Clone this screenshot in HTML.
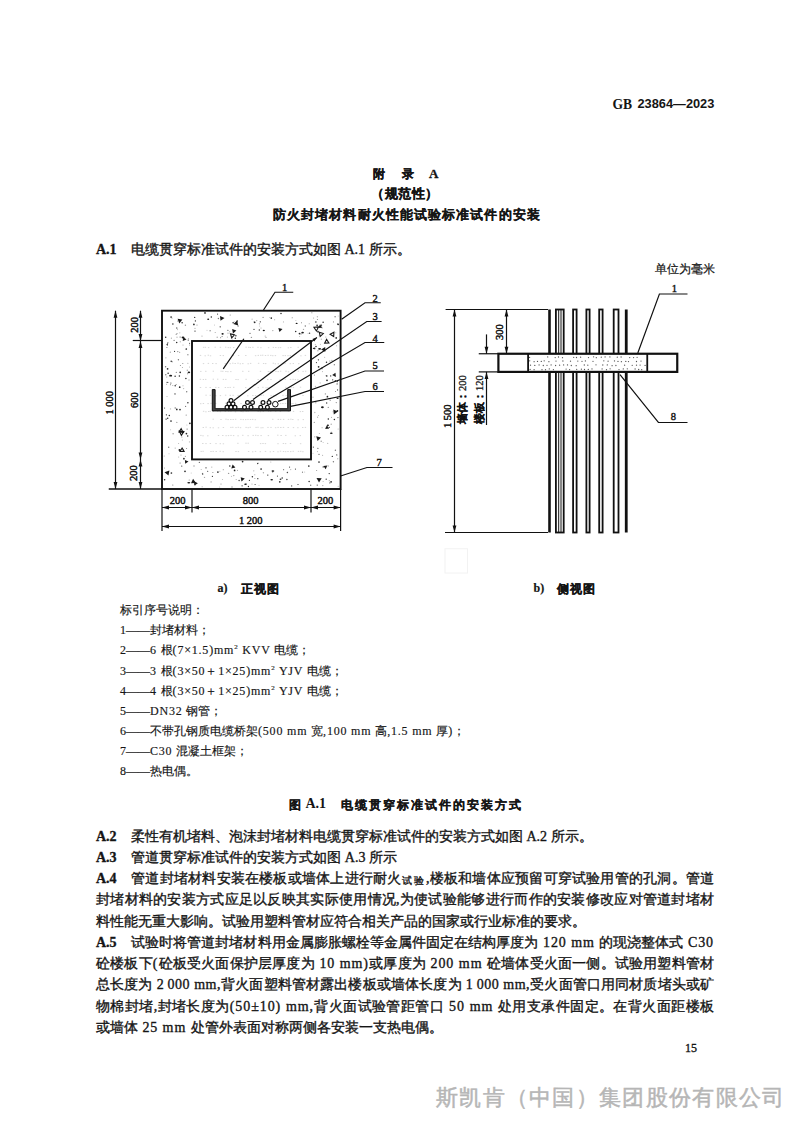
<!DOCTYPE html>
<html><head><meta charset="utf-8">
<style>
html,body{margin:0;padding:0;background:#fff;}
body{width:800px;height:1131px;position:relative;overflow:hidden;font-family:"Liberation Serif",serif;color:#151515;}
.t{position:absolute;white-space:nowrap;line-height:14px;}
.s{font-family:"Liberation Sans",sans-serif;font-weight:bold;-webkit-text-stroke:0.3px #151515;}
.p{position:absolute;left:96px;width:618px;font-size:14px;line-height:14px;white-space:nowrap;text-align:justify;text-align-last:justify;-webkit-text-stroke:0.35px #151515;}
.n{display:inline-block;width:35px;font-weight:bold;text-align:left;text-align-last:left;}
.lg{position:absolute;left:120px;font-size:12px;line-height:12px;white-space:nowrap;text-align:justify;text-align-last:justify;-webkit-text-stroke:0.15px #151515;}
.L{letter-spacing:0.8px;}
.L2{letter-spacing:0.9px;}
sup{font-size:7px;line-height:0;vertical-align:5px;}
svg{position:absolute;left:0;top:0;}
</style></head><body>
<svg width="800" height="1131" viewBox="0 0 800 1131">
<g fill="none" stroke="#111">
<circle cx="325.4" cy="393.9" r="0.7" fill="#999" stroke="none"/>
<circle cx="180.4" cy="365.6" r="0.5" fill="#777" stroke="none"/>
<circle cx="309.2" cy="323.7" r="0.5" fill="#999" stroke="none"/>
<circle cx="317.6" cy="417.2" r="0.6" fill="#aaa" stroke="none"/>
<circle cx="338.2" cy="486.2" r="0.5" fill="#aaa" stroke="none"/>
<circle cx="214.5" cy="324.9" r="0.5" fill="#bbb" stroke="none"/>
<circle cx="182.8" cy="363.4" r="0.5" fill="#777" stroke="none"/>
<circle cx="311.9" cy="312.8" r="0.5" fill="#777" stroke="none"/>
<circle cx="246.1" cy="483.6" r="0.6" fill="#bbb" stroke="none"/>
<circle cx="176.8" cy="422.4" r="0.7" fill="#aaa" stroke="none"/>
<circle cx="166.6" cy="384.2" r="0.5" fill="#999" stroke="none"/>
<circle cx="207.0" cy="330.3" r="0.5" fill="#bbb" stroke="none"/>
<circle cx="186.9" cy="424.9" r="0.5" fill="#bbb" stroke="none"/>
<circle cx="211.1" cy="481.9" r="0.7" fill="#aaa" stroke="none"/>
<circle cx="338.2" cy="316.1" r="0.5" fill="#bbb" stroke="none"/>
<circle cx="337.9" cy="417.6" r="0.7" fill="#777" stroke="none"/>
<circle cx="171.4" cy="338.2" r="0.6" fill="#aaa" stroke="none"/>
<circle cx="165.7" cy="419.1" r="0.6" fill="#bbb" stroke="none"/>
<circle cx="176.8" cy="328.4" r="0.7" fill="#999" stroke="none"/>
<circle cx="166.7" cy="377.0" r="0.7" fill="#bbb" stroke="none"/>
<circle cx="186.2" cy="415.1" r="0.7" fill="#999" stroke="none"/>
<circle cx="315.3" cy="344.6" r="0.5" fill="#aaa" stroke="none"/>
<circle cx="322.6" cy="455.2" r="0.5" fill="#999" stroke="none"/>
<circle cx="177.7" cy="321.0" r="0.5" fill="#777" stroke="none"/>
<circle cx="237.5" cy="470.4" r="0.6" fill="#aaa" stroke="none"/>
<circle cx="254.8" cy="474.7" r="0.5" fill="#999" stroke="none"/>
<circle cx="212.9" cy="472.6" r="0.5" fill="#777" stroke="none"/>
<circle cx="176.1" cy="384.4" r="0.5" fill="#777" stroke="none"/>
<circle cx="172.1" cy="361.8" r="0.7" fill="#999" stroke="none"/>
<circle cx="180.1" cy="336.8" r="0.6" fill="#aaa" stroke="none"/>
<circle cx="266.0" cy="337.2" r="0.5" fill="#777" stroke="none"/>
<circle cx="218.4" cy="318.5" r="0.7" fill="#777" stroke="none"/>
<circle cx="219.7" cy="486.9" r="0.5" fill="#bbb" stroke="none"/>
<circle cx="321.2" cy="441.2" r="0.7" fill="#999" stroke="none"/>
<circle cx="302.5" cy="472.2" r="0.6" fill="#777" stroke="none"/>
<circle cx="283.6" cy="469.7" r="0.6" fill="#777" stroke="none"/>
<circle cx="314.8" cy="412.5" r="0.7" fill="#bbb" stroke="none"/>
<circle cx="230.2" cy="314.9" r="0.5" fill="#777" stroke="none"/>
<circle cx="179.8" cy="332.8" r="0.6" fill="#bbb" stroke="none"/>
<circle cx="178.6" cy="443.5" r="0.5" fill="#aaa" stroke="none"/>
<circle cx="324.7" cy="357.3" r="0.5" fill="#aaa" stroke="none"/>
<circle cx="322.1" cy="427.7" r="0.6" fill="#bbb" stroke="none"/>
<circle cx="319.7" cy="369.7" r="0.7" fill="#aaa" stroke="none"/>
<circle cx="304.7" cy="472.0" r="0.5" fill="#bbb" stroke="none"/>
<circle cx="202.3" cy="473.2" r="0.5" fill="#999" stroke="none"/>
<circle cx="187.5" cy="373.8" r="0.5" fill="#777" stroke="none"/>
<circle cx="329.9" cy="360.9" r="0.5" fill="#777" stroke="none"/>
<circle cx="335.5" cy="391.6" r="0.5" fill="#777" stroke="none"/>
<circle cx="335.8" cy="332.8" r="0.5" fill="#aaa" stroke="none"/>
<circle cx="331.3" cy="432.0" r="0.5" fill="#bbb" stroke="none"/>
<circle cx="170.3" cy="352.2" r="0.6" fill="#999" stroke="none"/>
<circle cx="322.2" cy="327.9" r="0.7" fill="#bbb" stroke="none"/>
<circle cx="186.7" cy="391.8" r="0.7" fill="#777" stroke="none"/>
<circle cx="317.5" cy="451.6" r="0.6" fill="#bbb" stroke="none"/>
<circle cx="221.0" cy="483.9" r="0.5" fill="#777" stroke="none"/>
<circle cx="201.2" cy="469.6" r="0.5" fill="#aaa" stroke="none"/>
<circle cx="219.9" cy="471.3" r="0.5" fill="#aaa" stroke="none"/>
<circle cx="252.1" cy="319.2" r="0.6" fill="#bbb" stroke="none"/>
<circle cx="169.0" cy="453.7" r="0.5" fill="#bbb" stroke="none"/>
<circle cx="188.5" cy="338.6" r="0.7" fill="#bbb" stroke="none"/>
<circle cx="329.1" cy="398.6" r="0.7" fill="#777" stroke="none"/>
<circle cx="253.8" cy="470.8" r="0.6" fill="#aaa" stroke="none"/>
<circle cx="281.2" cy="479.1" r="0.7" fill="#999" stroke="none"/>
<circle cx="217.2" cy="337.3" r="0.7" fill="#aaa" stroke="none"/>
<circle cx="269.7" cy="317.5" r="0.5" fill="#bbb" stroke="none"/>
<circle cx="259.0" cy="485.2" r="0.5" fill="#bbb" stroke="none"/>
<circle cx="180.3" cy="341.8" r="0.7" fill="#bbb" stroke="none"/>
<circle cx="236.2" cy="479.5" r="0.6" fill="#aaa" stroke="none"/>
<circle cx="223.3" cy="469.7" r="0.6" fill="#aaa" stroke="none"/>
<circle cx="183.0" cy="385.8" r="0.5" fill="#aaa" stroke="none"/>
<circle cx="186.6" cy="448.5" r="0.5" fill="#777" stroke="none"/>
<circle cx="182.3" cy="440.1" r="0.5" fill="#aaa" stroke="none"/>
<circle cx="317.4" cy="316.8" r="0.7" fill="#bbb" stroke="none"/>
<circle cx="258.0" cy="463.3" r="0.7" fill="#999" stroke="none"/>
<circle cx="270.8" cy="462.0" r="0.5" fill="#aaa" stroke="none"/>
<circle cx="321.6" cy="367.8" r="0.6" fill="#999" stroke="none"/>
<circle cx="202.1" cy="486.7" r="0.5" fill="#999" stroke="none"/>
<circle cx="319.2" cy="335.8" r="0.5" fill="#aaa" stroke="none"/>
<circle cx="328.3" cy="407.4" r="0.7" fill="#999" stroke="none"/>
<circle cx="303.5" cy="329.4" r="0.7" fill="#aaa" stroke="none"/>
<circle cx="323.1" cy="481.5" r="0.5" fill="#aaa" stroke="none"/>
<circle cx="197.0" cy="325.0" r="0.5" fill="#777" stroke="none"/>
<circle cx="170.5" cy="408.9" r="0.7" fill="#bbb" stroke="none"/>
<circle cx="189.6" cy="344.9" r="0.5" fill="#999" stroke="none"/>
<circle cx="310.7" cy="485.3" r="0.7" fill="#777" stroke="none"/>
<circle cx="265.2" cy="336.1" r="0.7" fill="#bbb" stroke="none"/>
<circle cx="177.5" cy="329.6" r="0.6" fill="#bbb" stroke="none"/>
<circle cx="274.7" cy="319.8" r="0.5" fill="#999" stroke="none"/>
<circle cx="228.6" cy="473.4" r="0.7" fill="#999" stroke="none"/>
<circle cx="180.6" cy="450.8" r="0.6" fill="#777" stroke="none"/>
<circle cx="314.3" cy="422.4" r="0.6" fill="#999" stroke="none"/>
<circle cx="252.0" cy="484.0" r="0.6" fill="#aaa" stroke="none"/>
<circle cx="323.1" cy="442.5" r="0.5" fill="#bbb" stroke="none"/>
<circle cx="187.3" cy="370.2" r="0.7" fill="#aaa" stroke="none"/>
<circle cx="176.3" cy="372.3" r="0.6" fill="#777" stroke="none"/>
<circle cx="165.8" cy="374.7" r="0.7" fill="#777" stroke="none"/>
<circle cx="204.5" cy="477.4" r="0.7" fill="#aaa" stroke="none"/>
<circle cx="232.0" cy="487.0" r="0.7" fill="#999" stroke="none"/>
<circle cx="335.1" cy="316.7" r="0.7" fill="#777" stroke="none"/>
<circle cx="234.1" cy="321.5" r="0.5" fill="#bbb" stroke="none"/>
<circle cx="165.9" cy="357.8" r="0.6" fill="#aaa" stroke="none"/>
<circle cx="332.9" cy="411.7" r="0.5" fill="#bbb" stroke="none"/>
<circle cx="305.3" cy="326.0" r="0.7" fill="#777" stroke="none"/>
<circle cx="231.5" cy="476.3" r="0.6" fill="#bbb" stroke="none"/>
<circle cx="333.4" cy="461.8" r="0.7" fill="#777" stroke="none"/>
<circle cx="326.3" cy="428.4" r="0.7" fill="#aaa" stroke="none"/>
<circle cx="168.7" cy="447.3" r="0.7" fill="#777" stroke="none"/>
<circle cx="283.5" cy="321.9" r="0.6" fill="#bbb" stroke="none"/>
<circle cx="172.8" cy="485.0" r="0.6" fill="#777" stroke="none"/>
<circle cx="295.9" cy="320.6" r="0.5" fill="#bbb" stroke="none"/>
<circle cx="189.2" cy="480.0" r="0.5" fill="#777" stroke="none"/>
<circle cx="172.8" cy="385.4" r="0.5" fill="#999" stroke="none"/>
<circle cx="314.4" cy="374.9" r="0.5" fill="#777" stroke="none"/>
<circle cx="227.4" cy="337.1" r="0.6" fill="#bbb" stroke="none"/>
<circle cx="187.9" cy="363.3" r="0.5" fill="#999" stroke="none"/>
<circle cx="330.2" cy="400.2" r="0.7" fill="#999" stroke="none"/>
<circle cx="317.4" cy="319.6" r="0.5" fill="#777" stroke="none"/>
<circle cx="272.8" cy="330.6" r="0.7" fill="#aaa" stroke="none"/>
<circle cx="176.7" cy="327.8" r="0.7" fill="#999" stroke="none"/>
<circle cx="177.0" cy="333.6" r="0.7" fill="#999" stroke="none"/>
<circle cx="232.1" cy="339.0" r="0.5" fill="#aaa" stroke="none"/>
<circle cx="165.6" cy="366.8" r="0.7" fill="#777" stroke="none"/>
<circle cx="317.9" cy="350.8" r="0.7" fill="#aaa" stroke="none"/>
<circle cx="228.0" cy="333.2" r="0.7" fill="#bbb" stroke="none"/>
<circle cx="263.4" cy="472.8" r="0.7" fill="#aaa" stroke="none"/>
<circle cx="233.8" cy="475.6" r="0.7" fill="#999" stroke="none"/>
<circle cx="178.7" cy="457.1" r="0.5" fill="#aaa" stroke="none"/>
<circle cx="195.0" cy="328.3" r="0.6" fill="#aaa" stroke="none"/>
<circle cx="174.1" cy="340.4" r="0.6" fill="#777" stroke="none"/>
<circle cx="175.2" cy="408.0" r="0.7" fill="#777" stroke="none"/>
<circle cx="182.4" cy="367.4" r="0.5" fill="#999" stroke="none"/>
<circle cx="181.0" cy="455.0" r="0.6" fill="#999" stroke="none"/>
<circle cx="322.5" cy="371.6" r="0.6" fill="#bbb" stroke="none"/>
<circle cx="222.1" cy="336.5" r="0.6" fill="#777" stroke="none"/>
<circle cx="287.6" cy="472.2" r="0.6" fill="#aaa" stroke="none"/>
<circle cx="313.0" cy="453.2" r="0.5" fill="#bbb" stroke="none"/>
<circle cx="331.2" cy="424.3" r="0.7" fill="#aaa" stroke="none"/>
<circle cx="189.5" cy="441.9" r="0.7" fill="#bbb" stroke="none"/>
<circle cx="211.8" cy="467.1" r="0.6" fill="#aaa" stroke="none"/>
<circle cx="191.2" cy="473.0" r="0.5" fill="#bbb" stroke="none"/>
<circle cx="167.0" cy="396.6" r="0.5" fill="#aaa" stroke="none"/>
<circle cx="183.0" cy="344.9" r="0.5" fill="#999" stroke="none"/>
<circle cx="320.2" cy="382.9" r="0.6" fill="#bbb" stroke="none"/>
<circle cx="313.0" cy="397.2" r="0.6" fill="#aaa" stroke="none"/>
<circle cx="180.1" cy="463.0" r="0.6" fill="#777" stroke="none"/>
<circle cx="202.0" cy="336.1" r="0.6" fill="#aaa" stroke="none"/>
<circle cx="301.5" cy="322.8" r="0.5" fill="#777" stroke="none"/>
<circle cx="316.6" cy="470.5" r="0.6" fill="#999" stroke="none"/>
<circle cx="315.8" cy="402.7" r="0.7" fill="#aaa" stroke="none"/>
<circle cx="254.1" cy="321.9" r="0.7" fill="#999" stroke="none"/>
<circle cx="164.2" cy="455.9" r="0.5" fill="#999" stroke="none"/>
<circle cx="178.4" cy="359.7" r="0.7" fill="#777" stroke="none"/>
<circle cx="319.3" cy="433.6" r="0.5" fill="#aaa" stroke="none"/>
<circle cx="167.3" cy="345.4" r="0.5" fill="#777" stroke="none"/>
<circle cx="170.5" cy="384.7" r="0.6" fill="#999" stroke="none"/>
<circle cx="329.3" cy="480.7" r="0.6" fill="#aaa" stroke="none"/>
<circle cx="338.1" cy="429.0" r="0.5" fill="#aaa" stroke="none"/>
<circle cx="177.0" cy="337.2" r="0.7" fill="#bbb" stroke="none"/>
<circle cx="301.0" cy="333.9" r="0.6" fill="#777" stroke="none"/>
<circle cx="314.8" cy="436.8" r="0.6" fill="#999" stroke="none"/>
<circle cx="215.2" cy="332.5" r="0.5" fill="#999" stroke="none"/>
<circle cx="321.4" cy="339.2" r="0.7" fill="#bbb" stroke="none"/>
<circle cx="327.7" cy="443.4" r="0.6" fill="#bbb" stroke="none"/>
<circle cx="261.0" cy="327.9" r="0.5" fill="#999" stroke="none"/>
<circle cx="229.7" cy="331.8" r="0.6" fill="#aaa" stroke="none"/>
<circle cx="180.1" cy="337.2" r="0.5" fill="#999" stroke="none"/>
<circle cx="179.7" cy="352.2" r="0.5" fill="#777" stroke="none"/>
<circle cx="325.8" cy="336.9" r="0.5" fill="#999" stroke="none"/>
<circle cx="166.7" cy="382.5" r="0.7" fill="#aaa" stroke="none"/>
<circle cx="335.4" cy="450.3" r="0.7" fill="#777" stroke="none"/>
<circle cx="181.9" cy="437.1" r="0.6" fill="#aaa" stroke="none"/>
<circle cx="251.4" cy="337.4" r="0.7" fill="#999" stroke="none"/>
<circle cx="336.3" cy="402.6" r="0.7" fill="#999" stroke="none"/>
<circle cx="263.1" cy="317.4" r="0.7" fill="#999" stroke="none"/>
<circle cx="299.6" cy="336.5" r="0.6" fill="#bbb" stroke="none"/>
<circle cx="326.2" cy="375.7" r="0.6" fill="#777" stroke="none"/>
<circle cx="259.4" cy="323.8" r="0.6" fill="#999" stroke="none"/>
<circle cx="322.8" cy="485.6" r="0.6" fill="#999" stroke="none"/>
<circle cx="185.4" cy="456.4" r="0.6" fill="#aaa" stroke="none"/>
<circle cx="259.7" cy="326.0" r="0.5" fill="#bbb" stroke="none"/>
<circle cx="195.4" cy="484.7" r="0.7" fill="#999" stroke="none"/>
<circle cx="166.9" cy="347.5" r="0.6" fill="#777" stroke="none"/>
<circle cx="189.0" cy="380.0" r="0.7" fill="#bbb" stroke="none"/>
<circle cx="170.6" cy="429.7" r="0.5" fill="#bbb" stroke="none"/>
<circle cx="331.5" cy="417.3" r="0.6" fill="#aaa" stroke="none"/>
<circle cx="337.7" cy="458.8" r="0.7" fill="#bbb" stroke="none"/>
<circle cx="308.1" cy="333.2" r="0.5" fill="#aaa" stroke="none"/>
<circle cx="321.9" cy="368.6" r="0.5" fill="#aaa" stroke="none"/>
<circle cx="290.7" cy="469.6" r="0.7" fill="#bbb" stroke="none"/>
<circle cx="176.2" cy="334.4" r="0.6" fill="#999" stroke="none"/>
<circle cx="173.1" cy="433.8" r="0.7" fill="#999" stroke="none"/>
<circle cx="328.2" cy="466.0" r="0.7" fill="#aaa" stroke="none"/>
<circle cx="315.3" cy="386.2" r="0.5" fill="#999" stroke="none"/>
<circle cx="185.4" cy="325.2" r="0.7" fill="#999" stroke="none"/>
<circle cx="185.6" cy="406.4" r="0.6" fill="#777" stroke="none"/>
<circle cx="168.2" cy="342.7" r="0.6" fill="#bbb" stroke="none"/>
<circle cx="172.0" cy="318.1" r="0.6" fill="#aaa" stroke="none"/>
<circle cx="220.6" cy="337.7" r="0.6" fill="#999" stroke="none"/>
<circle cx="199.4" cy="462.4" r="0.7" fill="#777" stroke="none"/>
<circle cx="194.0" cy="466.0" r="0.7" fill="#999" stroke="none"/>
<circle cx="329.8" cy="482.9" r="0.7" fill="#777" stroke="none"/>
<circle cx="331.9" cy="360.4" r="0.6" fill="#999" stroke="none"/>
<circle cx="222.5" cy="479.5" r="0.6" fill="#bbb" stroke="none"/>
<circle cx="177.8" cy="351.6" r="0.6" fill="#777" stroke="none"/>
<circle cx="318.4" cy="415.5" r="0.5" fill="#aaa" stroke="none"/>
<circle cx="320.4" cy="344.2" r="0.5" fill="#aaa" stroke="none"/>
<circle cx="187.1" cy="429.1" r="0.6" fill="#777" stroke="none"/>
<circle cx="256.7" cy="320.6" r="0.7" fill="#aaa" stroke="none"/>
<circle cx="336.6" cy="345.7" r="0.5" fill="#aaa" stroke="none"/>
<circle cx="292.2" cy="317.7" r="0.5" fill="#777" stroke="none"/>
<circle cx="272.6" cy="472.4" r="0.7" fill="#bbb" stroke="none"/>
<circle cx="164.5" cy="468.1" r="0.5" fill="#999" stroke="none"/>
<circle cx="175.2" cy="448.1" r="0.6" fill="#aaa" stroke="none"/>
<circle cx="254.9" cy="478.6" r="0.5" fill="#999" stroke="none"/>
<circle cx="183.6" cy="388.6" r="0.7" fill="#bbb" stroke="none"/>
<circle cx="333.5" cy="321.9" r="0.6" fill="#999" stroke="none"/>
<circle cx="313.6" cy="318.1" r="0.5" fill="#999" stroke="none"/>
<circle cx="189.5" cy="366.9" r="0.5" fill="#aaa" stroke="none"/>
<circle cx="286.9" cy="479.5" r="0.65" fill="#2a2a2a" stroke="none"/>
<circle cx="336.2" cy="337.9" r="0.85" fill="#2a2a2a" stroke="none"/>
<circle cx="255.1" cy="484.5" r="0.55" fill="#2a2a2a" stroke="none"/>
<circle cx="206.0" cy="467.8" r="0.65" fill="#2a2a2a" stroke="none"/>
<circle cx="180.0" cy="409.6" r="0.85" fill="#2a2a2a" stroke="none"/>
<circle cx="238.1" cy="326.0" r="0.55" fill="#2a2a2a" stroke="none"/>
<circle cx="334.4" cy="419.5" r="0.75" fill="#2a2a2a" stroke="none"/>
<circle cx="326.8" cy="376.1" r="0.75" fill="#2a2a2a" stroke="none"/>
<circle cx="329.2" cy="473.6" r="0.65" fill="#2a2a2a" stroke="none"/>
<circle cx="170.9" cy="383.0" r="0.55" fill="#2a2a2a" stroke="none"/>
<circle cx="323.2" cy="466.9" r="0.65" fill="#2a2a2a" stroke="none"/>
<circle cx="242.1" cy="485.8" r="0.65" fill="#2a2a2a" stroke="none"/>
<circle cx="314.6" cy="348.4" r="0.85" fill="#2a2a2a" stroke="none"/>
<circle cx="237.2" cy="320.9" r="0.75" fill="#2a2a2a" stroke="none"/>
<circle cx="167.2" cy="344.4" r="0.75" fill="#2a2a2a" stroke="none"/>
<circle cx="182.1" cy="322.7" r="0.75" fill="#2a2a2a" stroke="none"/>
<circle cx="187.9" cy="354.7" r="0.55" fill="#2a2a2a" stroke="none"/>
<circle cx="167.6" cy="368.8" r="0.85" fill="#2a2a2a" stroke="none"/>
<circle cx="242.6" cy="461.6" r="0.85" fill="#2a2a2a" stroke="none"/>
<circle cx="254.7" cy="322.3" r="0.85" fill="#2a2a2a" stroke="none"/>
<circle cx="186.3" cy="349.0" r="0.85" fill="#2a2a2a" stroke="none"/>
<circle cx="187.7" cy="435.9" r="0.75" fill="#2a2a2a" stroke="none"/>
<circle cx="229.8" cy="466.1" r="0.75" fill="#2a2a2a" stroke="none"/>
<circle cx="187.9" cy="402.8" r="0.75" fill="#2a2a2a" stroke="none"/>
<circle cx="171.1" cy="317.0" r="0.85" fill="#2a2a2a" stroke="none"/>
<circle cx="334.3" cy="364.7" r="0.55" fill="#2a2a2a" stroke="none"/>
<circle cx="324.5" cy="350.4" r="0.75" fill="#2a2a2a" stroke="none"/>
<circle cx="280.4" cy="479.2" r="0.75" fill="#2a2a2a" stroke="none"/>
<circle cx="179.7" cy="387.2" r="0.85" fill="#2a2a2a" stroke="none"/>
<circle cx="326.5" cy="362.3" r="0.75" fill="#2a2a2a" stroke="none"/>
<circle cx="202.7" cy="474.0" r="0.65" fill="#2a2a2a" stroke="none"/>
<circle cx="180.2" cy="372.3" r="0.85" fill="#2a2a2a" stroke="none"/>
<circle cx="217.9" cy="472.1" r="0.85" fill="#2a2a2a" stroke="none"/>
<circle cx="185.0" cy="471.3" r="0.85" fill="#2a2a2a" stroke="none"/>
<circle cx="289.6" cy="467.1" r="0.55" fill="#2a2a2a" stroke="none"/>
<circle cx="168.1" cy="373.2" r="0.75" fill="#2a2a2a" stroke="none"/>
<circle cx="330.7" cy="375.9" r="0.65" fill="#2a2a2a" stroke="none"/>
<circle cx="308.8" cy="466.0" r="0.85" fill="#2a2a2a" stroke="none"/>
<circle cx="332.7" cy="379.8" r="0.65" fill="#2a2a2a" stroke="none"/>
<circle cx="167.7" cy="418.2" r="0.75" fill="#2a2a2a" stroke="none"/>
<circle cx="205.0" cy="312.9" r="0.85" fill="#2a2a2a" stroke="none"/>
<circle cx="164.6" cy="408.0" r="0.55" fill="#2a2a2a" stroke="none"/>
<circle cx="309.1" cy="481.6" r="0.75" fill="#2a2a2a" stroke="none"/>
<circle cx="210.1" cy="330.8" r="0.55" fill="#2a2a2a" stroke="none"/>
<circle cx="332.3" cy="456.4" r="0.65" fill="#2a2a2a" stroke="none"/>
<circle cx="287.3" cy="472.6" r="0.65" fill="#2a2a2a" stroke="none"/>
<circle cx="317.2" cy="485.1" r="0.55" fill="#2a2a2a" stroke="none"/>
<circle cx="318.6" cy="366.8" r="0.85" fill="#2a2a2a" stroke="none"/>
<circle cx="171.0" cy="421.0" r="0.85" fill="#2a2a2a" stroke="none"/>
<circle cx="315.9" cy="322.0" r="0.75" fill="#2a2a2a" stroke="none"/>
<circle cx="313.5" cy="348.4" r="0.65" fill="#2a2a2a" stroke="none"/>
<circle cx="185.9" cy="378.4" r="0.75" fill="#2a2a2a" stroke="none"/>
<circle cx="166.4" cy="414.8" r="0.65" fill="#2a2a2a" stroke="none"/>
<circle cx="188.2" cy="340.1" r="0.55" fill="#2a2a2a" stroke="none"/>
<circle cx="316.0" cy="346.5" r="0.75" fill="#2a2a2a" stroke="none"/>
<circle cx="291.7" cy="485.9" r="0.55" fill="#2a2a2a" stroke="none"/>
<circle cx="234.6" cy="470.4" r="0.85" fill="#2a2a2a" stroke="none"/>
<circle cx="193.9" cy="324.4" r="0.85" fill="#2a2a2a" stroke="none"/>
<circle cx="335.3" cy="380.6" r="0.65" fill="#2a2a2a" stroke="none"/>
<circle cx="189.6" cy="343.2" r="0.55" fill="#2a2a2a" stroke="none"/>
<circle cx="261.1" cy="469.0" r="0.85" fill="#2a2a2a" stroke="none"/>
<circle cx="318.4" cy="359.8" r="0.65" fill="#2a2a2a" stroke="none"/>
<circle cx="220.2" cy="326.8" r="0.65" fill="#2a2a2a" stroke="none"/>
<circle cx="172.9" cy="323.9" r="0.75" fill="#2a2a2a" stroke="none"/>
<circle cx="281.0" cy="313.4" r="0.75" fill="#2a2a2a" stroke="none"/>
<circle cx="248.4" cy="486.5" r="0.65" fill="#2a2a2a" stroke="none"/>
<circle cx="337.1" cy="383.9" r="0.55" fill="#2a2a2a" stroke="none"/>
<circle cx="233.1" cy="322.7" r="0.75" fill="#2a2a2a" stroke="none"/>
<circle cx="212.4" cy="476.3" r="0.65" fill="#2a2a2a" stroke="none"/>
<circle cx="337.6" cy="389.9" r="0.55" fill="#2a2a2a" stroke="none"/>
<circle cx="194.7" cy="317.4" r="0.65" fill="#2a2a2a" stroke="none"/>
<circle cx="211.3" cy="316.9" r="0.75" fill="#2a2a2a" stroke="none"/>
<circle cx="175.0" cy="393.9" r="0.65" fill="#2a2a2a" stroke="none"/>
<circle cx="175.1" cy="376.2" r="0.75" fill="#2a2a2a" stroke="none"/>
<circle cx="298.0" cy="484.5" r="0.55" fill="#2a2a2a" stroke="none"/>
<circle cx="327.4" cy="396.7" r="0.85" fill="#2a2a2a" stroke="none"/>
<circle cx="207.7" cy="471.3" r="0.55" fill="#2a2a2a" stroke="none"/>
<circle cx="165.7" cy="337.2" r="0.75" fill="#2a2a2a" stroke="none"/>
<circle cx="322.0" cy="368.8" r="0.55" fill="#2a2a2a" stroke="none"/>
<circle cx="195.4" cy="320.9" r="0.65" fill="#2a2a2a" stroke="none"/>
<circle cx="195.0" cy="331.1" r="0.65" fill="#2a2a2a" stroke="none"/>
<circle cx="167.8" cy="382.4" r="0.55" fill="#2a2a2a" stroke="none"/>
<circle cx="257.8" cy="478.7" r="0.65" fill="#2a2a2a" stroke="none"/>
<circle cx="167.6" cy="343.1" r="0.55" fill="#2a2a2a" stroke="none"/>
<circle cx="295.7" cy="331.6" r="0.75" fill="#2a2a2a" stroke="none"/>
<circle cx="239.1" cy="480.5" r="0.65" fill="#2a2a2a" stroke="none"/>
<circle cx="319.0" cy="454.3" r="0.55" fill="#2a2a2a" stroke="none"/>
<circle cx="282.2" cy="477.9" r="0.75" fill="#2a2a2a" stroke="none"/>
<circle cx="317.9" cy="448.2" r="0.55" fill="#2a2a2a" stroke="none"/>
<circle cx="189.9" cy="423.3" r="0.85" fill="#2a2a2a" stroke="none"/>
<circle cx="323.1" cy="322.3" r="0.75" fill="#2a2a2a" stroke="none"/>
<circle cx="319.0" cy="462.0" r="0.85" fill="#2a2a2a" stroke="none"/>
<circle cx="183.9" cy="458.7" r="0.85" fill="#2a2a2a" stroke="none"/>
<circle cx="171.4" cy="473.0" r="0.85" fill="#2a2a2a" stroke="none"/>
<circle cx="267.8" cy="475.1" r="0.65" fill="#2a2a2a" stroke="none"/>
<circle cx="260.3" cy="321.8" r="0.65" fill="#2a2a2a" stroke="none"/>
<circle cx="295.4" cy="469.1" r="0.55" fill="#2a2a2a" stroke="none"/>
<circle cx="277.4" cy="476.1" r="0.55" fill="#2a2a2a" stroke="none"/>
<circle cx="337.5" cy="324.0" r="0.55" fill="#2a2a2a" stroke="none"/>
<circle cx="257.6" cy="463.6" r="0.65" fill="#2a2a2a" stroke="none"/>
<circle cx="249.4" cy="480.3" r="0.65" fill="#2a2a2a" stroke="none"/>
<circle cx="176.8" cy="409.4" r="0.85" fill="#2a2a2a" stroke="none"/>
<circle cx="317.1" cy="325.3" r="0.85" fill="#2a2a2a" stroke="none"/>
<circle cx="313.3" cy="447.1" r="0.55" fill="#2a2a2a" stroke="none"/>
<circle cx="227.9" cy="330.2" r="0.55" fill="#2a2a2a" stroke="none"/>
<circle cx="326.2" cy="479.2" r="0.65" fill="#2a2a2a" stroke="none"/>
<circle cx="309.6" cy="333.2" r="0.65" fill="#2a2a2a" stroke="none"/>
<circle cx="271.3" cy="318.1" r="0.85" fill="#2a2a2a" stroke="none"/>
<circle cx="321.5" cy="325.2" r="0.65" fill="#2a2a2a" stroke="none"/>
<circle cx="331.1" cy="481.8" r="0.85" fill="#2a2a2a" stroke="none"/>
<circle cx="329.2" cy="427.4" r="0.65" fill="#2a2a2a" stroke="none"/>
<circle cx="186.4" cy="433.6" r="0.85" fill="#2a2a2a" stroke="none"/>
<circle cx="171.2" cy="361.2" r="0.75" fill="#2a2a2a" stroke="none"/>
<circle cx="328.3" cy="419.0" r="0.75" fill="#2a2a2a" stroke="none"/>
<circle cx="217.6" cy="314.1" r="0.55" fill="#2a2a2a" stroke="none"/>
<circle cx="235.3" cy="338.2" r="0.75" fill="#2a2a2a" stroke="none"/>
<circle cx="252.4" cy="476.8" r="0.75" fill="#2a2a2a" stroke="none"/>
<circle cx="250.0" cy="333.2" r="0.55" fill="#2a2a2a" stroke="none"/>
<circle cx="316.4" cy="362.6" r="0.55" fill="#2a2a2a" stroke="none"/>
<circle cx="327.0" cy="380.3" r="0.85" fill="#2a2a2a" stroke="none"/>
<circle cx="175.2" cy="385.7" r="0.75" fill="#2a2a2a" stroke="none"/>
<circle cx="166.2" cy="419.1" r="0.55" fill="#2a2a2a" stroke="none"/>
<circle cx="235.9" cy="335.7" r="0.75" fill="#2a2a2a" stroke="none"/>
<circle cx="181.8" cy="466.1" r="0.55" fill="#2a2a2a" stroke="none"/>
<circle cx="259.3" cy="330.0" r="0.65" fill="#2a2a2a" stroke="none"/>
<circle cx="179.4" cy="376.1" r="0.75" fill="#2a2a2a" stroke="none"/>
<circle cx="169.3" cy="415.6" r="0.75" fill="#2a2a2a" stroke="none"/>
<circle cx="336.8" cy="454.9" r="0.55" fill="#2a2a2a" stroke="none"/>
<circle cx="176.7" cy="342.4" r="0.75" fill="#2a2a2a" stroke="none"/>
<circle cx="174.6" cy="351.4" r="0.55" fill="#2a2a2a" stroke="none"/>
<circle cx="337.3" cy="381.6" r="0.65" fill="#2a2a2a" stroke="none"/>
<circle cx="338.2" cy="324.3" r="0.85" fill="#2a2a2a" stroke="none"/>
<circle cx="326.7" cy="403.0" r="0.65" fill="#2a2a2a" stroke="none"/>
<circle cx="254.0" cy="329.4" r="0.55" fill="#2a2a2a" stroke="none"/>
<circle cx="164.6" cy="479.7" r="0.75" fill="#2a2a2a" stroke="none"/>
<circle cx="279.8" cy="481.8" r="0.85" fill="#2a2a2a" stroke="none"/>
<circle cx="299.5" cy="333.6" r="0.85" fill="#2a2a2a" stroke="none"/>
<circle cx="318.0" cy="331.7" r="0.85" fill="#2a2a2a" stroke="none"/>
<circle cx="183.4" cy="450.3" r="0.75" fill="#2a2a2a" stroke="none"/>
<ellipse cx="337.4" cy="410.9" rx="0.9" ry="0.8" fill="#1a1a1a" stroke="none"/>
<ellipse cx="245.5" cy="484.2" rx="1.3" ry="0.8" fill="#1a1a1a" stroke="none"/>
<ellipse cx="183.0" cy="337.4" rx="1.4" ry="1.0" fill="#1a1a1a" stroke="none"/>
<ellipse cx="271.7" cy="479.7" rx="1.3" ry="0.7" fill="#1a1a1a" stroke="none"/>
<ellipse cx="302.6" cy="332.6" rx="1.3" ry="0.9" fill="#1a1a1a" stroke="none"/>
<ellipse cx="322.4" cy="407.3" rx="1.4" ry="1.0" fill="#1a1a1a" stroke="none"/>
<ellipse cx="319.6" cy="348.8" rx="1.5" ry="0.9" fill="#1a1a1a" stroke="none"/>
<ellipse cx="188.8" cy="482.8" rx="1.5" ry="0.7" fill="#1a1a1a" stroke="none"/>
<ellipse cx="179.6" cy="450.1" rx="1.1" ry="1.0" fill="#1a1a1a" stroke="none"/>
<ellipse cx="222.6" cy="333.8" rx="1.1" ry="0.9" fill="#1a1a1a" stroke="none"/>
<ellipse cx="170.6" cy="375.7" rx="1.5" ry="0.9" fill="#1a1a1a" stroke="none"/>
<ellipse cx="183.1" cy="432.2" rx="1.1" ry="0.8" fill="#1a1a1a" stroke="none"/>
<ellipse cx="331.3" cy="433.2" rx="1.4" ry="0.8" fill="#1a1a1a" stroke="none"/>
<ellipse cx="296.6" cy="323.4" rx="1.0" ry="0.7" fill="#1a1a1a" stroke="none"/>
<ellipse cx="327.9" cy="425.2" rx="1.1" ry="0.7" fill="#1a1a1a" stroke="none"/>
<ellipse cx="263.8" cy="330.5" rx="1.1" ry="0.8" fill="#1a1a1a" stroke="none"/>
<ellipse cx="208.2" cy="319.3" rx="1.0" ry="0.8" fill="#1a1a1a" stroke="none"/>
<ellipse cx="337.6" cy="398.2" rx="1.1" ry="0.7" fill="#1a1a1a" stroke="none"/>
<ellipse cx="188.9" cy="372.3" rx="1.3" ry="0.9" fill="#1a1a1a" stroke="none"/>
<ellipse cx="272.9" cy="471.1" rx="1.4" ry="0.8" fill="#1a1a1a" stroke="none"/>
<polygon points="181.2,428.7 183.0,432.3 179.0,432.1" fill="none" stroke="#1a1a1a" stroke-width="1.1"/>
<polygon points="321.0,437.4 317.6,441.0 316.2,436.2" fill="#1a1a1a" stroke="none"/>
<polygon points="185.2,463.8 184.9,459.9 188.5,461.6" fill="#1a1a1a" stroke="none"/>
<polygon points="324.7,343.1 326.6,339.4 328.9,342.9" fill="none" stroke="#1a1a1a" stroke-width="1.1"/>
<polygon points="321.1,349.5 325.2,347.0 325.3,351.7" fill="#1a1a1a" stroke="none"/>
<polygon points="220.0,315.9 224.5,317.9 220.5,320.8" fill="#1a1a1a" stroke="none"/>
<polygon points="232.1,329.0 236.4,330.4 233.0,333.4" fill="#1a1a1a" stroke="none"/>
<polygon points="237.2,320.5 238.2,325.5 233.4,323.9" fill="#1a1a1a" stroke="none"/>
<polygon points="318.1,327.9 320.1,324.3 322.2,327.8" fill="#1a1a1a" stroke="none"/>
<polygon points="230.5,333.9 234.4,334.8 231.7,337.8" fill="none" stroke="#1a1a1a" stroke-width="1.1"/>
<polygon points="332.2,375.1 335.5,372.8 335.8,376.9" fill="#1a1a1a" stroke="none"/>
<polygon points="241.5,481.4 240.7,477.2 244.8,478.6" fill="#1a1a1a" stroke="none"/>
<polygon points="193.1,478.8 195.9,482.9 191.0,483.3" fill="#1a1a1a" stroke="none"/>
<polygon points="194.3,485.6 194.0,481.2 197.9,483.2" fill="#1a1a1a" stroke="none"/>
<polygon points="333.7,336.5 330.1,334.2 333.9,332.2" fill="none" stroke="#1a1a1a" stroke-width="1.1"/>
<polygon points="182.4,319.6 179.3,323.4 177.6,318.8" fill="#1a1a1a" stroke="none"/>
<polygon points="182.1,448.0 184.1,451.5 180.0,451.5" fill="none" stroke="#1a1a1a" stroke-width="1.1"/>
<polygon points="313.9,327.2 318.5,326.9 316.4,331.0" fill="none" stroke="#1a1a1a" stroke-width="1.1"/>
<polygon points="168.5,475.6 164.5,472.3 169.4,470.5" fill="#1a1a1a" stroke="none"/>
<polygon points="325.1,428.8 327.0,425.3 329.1,428.7" fill="#1a1a1a" stroke="none"/>
<polygon points="321.7,478.2 319.0,482.6 316.5,478.1" fill="#1a1a1a" stroke="none"/>
<polygon points="183.9,431.4 181.4,435.3 179.3,431.1" fill="none" stroke="#1a1a1a" stroke-width="1.1"/>
<polygon points="183.3,337.0 186.5,339.6 182.7,341.0" fill="#1a1a1a" stroke="none"/>
<polygon points="327.3,465.6 325.7,469.2 323.4,466.0" fill="#1a1a1a" stroke="none"/>
<polygon points="333.8,414.5 333.3,409.5 337.9,411.6" fill="#1a1a1a" stroke="none"/>
<polygon points="320.2,336.4 319.3,332.3 323.3,333.6" fill="none" stroke="#1a1a1a" stroke-width="1.1"/>
<polygon points="282.5,329.0 279.5,332.1 278.3,327.9" fill="#1a1a1a" stroke="none"/>
<polygon points="235.4,467.6 231.3,468.5 232.6,464.6" fill="#1a1a1a" stroke="none"/>
<rect x="202.9" y="346.8" width="1.4" height="1" fill="#d9d9d9" stroke="none"/>
<rect x="204.7" y="346.8" width="1.4" height="1" fill="#d9d9d9" stroke="none"/>
<rect x="207.9" y="347.1" width="1.4" height="1" fill="#d9d9d9" stroke="none"/>
<rect x="214.5" y="346.7" width="1.4" height="1" fill="#d9d9d9" stroke="none"/>
<rect x="219.7" y="346.8" width="1.4" height="1" fill="#d9d9d9" stroke="none"/>
<rect x="225.0" y="346.7" width="1.4" height="1" fill="#d9d9d9" stroke="none"/>
<rect x="227.6" y="347.1" width="1.4" height="1" fill="#d9d9d9" stroke="none"/>
<rect x="229.6" y="347.2" width="1.4" height="1" fill="#d9d9d9" stroke="none"/>
<rect x="233.0" y="347.1" width="1.4" height="1" fill="#d9d9d9" stroke="none"/>
<rect x="245.4" y="346.7" width="1.4" height="1" fill="#d9d9d9" stroke="none"/>
<rect x="248.0" y="346.8" width="1.4" height="1" fill="#d9d9d9" stroke="none"/>
<rect x="249.6" y="347.0" width="1.4" height="1" fill="#d9d9d9" stroke="none"/>
<rect x="252.2" y="346.8" width="1.4" height="1" fill="#d9d9d9" stroke="none"/>
<rect x="257.3" y="346.8" width="1.4" height="1" fill="#d9d9d9" stroke="none"/>
<rect x="260.2" y="347.2" width="1.4" height="1" fill="#d9d9d9" stroke="none"/>
<rect x="267.9" y="347.2" width="1.4" height="1" fill="#d9d9d9" stroke="none"/>
<rect x="272.7" y="346.9" width="1.4" height="1" fill="#d9d9d9" stroke="none"/>
<rect x="275.1" y="347.0" width="1.4" height="1" fill="#d9d9d9" stroke="none"/>
<rect x="277.8" y="347.2" width="1.4" height="1" fill="#d9d9d9" stroke="none"/>
<rect x="279.8" y="347.1" width="1.4" height="1" fill="#d9d9d9" stroke="none"/>
<rect x="287.7" y="347.3" width="1.4" height="1" fill="#d9d9d9" stroke="none"/>
<rect x="290.1" y="347.0" width="1.4" height="1" fill="#d9d9d9" stroke="none"/>
<rect x="297.5" y="346.8" width="1.4" height="1" fill="#d9d9d9" stroke="none"/>
<rect x="199.8" y="354.9" width="1.4" height="1" fill="#d9d9d9" stroke="none"/>
<rect x="204.5" y="355.3" width="1.4" height="1" fill="#d9d9d9" stroke="none"/>
<rect x="207.6" y="354.7" width="1.4" height="1" fill="#d9d9d9" stroke="none"/>
<rect x="209.8" y="355.3" width="1.4" height="1" fill="#d9d9d9" stroke="none"/>
<rect x="219.7" y="355.0" width="1.4" height="1" fill="#d9d9d9" stroke="none"/>
<rect x="222.6" y="355.1" width="1.4" height="1" fill="#d9d9d9" stroke="none"/>
<rect x="232.7" y="355.0" width="1.4" height="1" fill="#d9d9d9" stroke="none"/>
<rect x="237.9" y="355.0" width="1.4" height="1" fill="#d9d9d9" stroke="none"/>
<rect x="245.1" y="355.0" width="1.4" height="1" fill="#d9d9d9" stroke="none"/>
<rect x="254.9" y="355.2" width="1.4" height="1" fill="#d9d9d9" stroke="none"/>
<rect x="257.6" y="354.9" width="1.4" height="1" fill="#d9d9d9" stroke="none"/>
<rect x="260.1" y="354.8" width="1.4" height="1" fill="#d9d9d9" stroke="none"/>
<rect x="262.0" y="354.7" width="1.4" height="1" fill="#d9d9d9" stroke="none"/>
<rect x="264.8" y="355.0" width="1.4" height="1" fill="#d9d9d9" stroke="none"/>
<rect x="267.4" y="354.8" width="1.4" height="1" fill="#d9d9d9" stroke="none"/>
<rect x="270.1" y="354.9" width="1.4" height="1" fill="#d9d9d9" stroke="none"/>
<rect x="272.1" y="355.2" width="1.4" height="1" fill="#d9d9d9" stroke="none"/>
<rect x="274.7" y="355.1" width="1.4" height="1" fill="#d9d9d9" stroke="none"/>
<rect x="282.4" y="355.1" width="1.4" height="1" fill="#d9d9d9" stroke="none"/>
<rect x="284.6" y="355.1" width="1.4" height="1" fill="#d9d9d9" stroke="none"/>
<rect x="287.3" y="355.2" width="1.4" height="1" fill="#d9d9d9" stroke="none"/>
<rect x="289.6" y="355.1" width="1.4" height="1" fill="#d9d9d9" stroke="none"/>
<rect x="300.2" y="355.3" width="1.4" height="1" fill="#d9d9d9" stroke="none"/>
<rect x="304.7" y="354.9" width="1.4" height="1" fill="#d9d9d9" stroke="none"/>
<rect x="202.8" y="363.1" width="1.4" height="1" fill="#d9d9d9" stroke="none"/>
<rect x="207.7" y="362.9" width="1.4" height="1" fill="#d9d9d9" stroke="none"/>
<rect x="212.0" y="363.0" width="1.4" height="1" fill="#d9d9d9" stroke="none"/>
<rect x="215.4" y="363.1" width="1.4" height="1" fill="#d9d9d9" stroke="none"/>
<rect x="224.6" y="363.0" width="1.4" height="1" fill="#d9d9d9" stroke="none"/>
<rect x="229.5" y="363.2" width="1.4" height="1" fill="#d9d9d9" stroke="none"/>
<rect x="232.1" y="362.7" width="1.4" height="1" fill="#d9d9d9" stroke="none"/>
<rect x="234.5" y="363.0" width="1.4" height="1" fill="#d9d9d9" stroke="none"/>
<rect x="237.3" y="362.7" width="1.4" height="1" fill="#d9d9d9" stroke="none"/>
<rect x="239.6" y="363.3" width="1.4" height="1" fill="#d9d9d9" stroke="none"/>
<rect x="242.1" y="363.1" width="1.4" height="1" fill="#d9d9d9" stroke="none"/>
<rect x="247.5" y="363.3" width="1.4" height="1" fill="#d9d9d9" stroke="none"/>
<rect x="249.9" y="362.9" width="1.4" height="1" fill="#d9d9d9" stroke="none"/>
<rect x="257.9" y="362.8" width="1.4" height="1" fill="#d9d9d9" stroke="none"/>
<rect x="262.9" y="363.0" width="1.4" height="1" fill="#d9d9d9" stroke="none"/>
<rect x="265.0" y="363.1" width="1.4" height="1" fill="#d9d9d9" stroke="none"/>
<rect x="272.6" y="362.7" width="1.4" height="1" fill="#d9d9d9" stroke="none"/>
<rect x="274.6" y="363.3" width="1.4" height="1" fill="#d9d9d9" stroke="none"/>
<rect x="277.6" y="363.3" width="1.4" height="1" fill="#d9d9d9" stroke="none"/>
<rect x="282.9" y="363.2" width="1.4" height="1" fill="#d9d9d9" stroke="none"/>
<rect x="284.5" y="362.7" width="1.4" height="1" fill="#d9d9d9" stroke="none"/>
<rect x="289.7" y="363.2" width="1.4" height="1" fill="#d9d9d9" stroke="none"/>
<rect x="292.6" y="363.0" width="1.4" height="1" fill="#d9d9d9" stroke="none"/>
<rect x="298.0" y="363.2" width="1.4" height="1" fill="#d9d9d9" stroke="none"/>
<rect x="304.9" y="363.0" width="1.4" height="1" fill="#d9d9d9" stroke="none"/>
<rect x="200.1" y="370.9" width="1.4" height="1" fill="#d9d9d9" stroke="none"/>
<rect x="205.1" y="370.8" width="1.4" height="1" fill="#d9d9d9" stroke="none"/>
<rect x="212.6" y="370.7" width="1.4" height="1" fill="#d9d9d9" stroke="none"/>
<rect x="220.4" y="370.7" width="1.4" height="1" fill="#d9d9d9" stroke="none"/>
<rect x="222.1" y="370.8" width="1.4" height="1" fill="#d9d9d9" stroke="none"/>
<rect x="225.2" y="371.0" width="1.4" height="1" fill="#d9d9d9" stroke="none"/>
<rect x="227.2" y="371.2" width="1.4" height="1" fill="#d9d9d9" stroke="none"/>
<rect x="230.1" y="371.1" width="1.4" height="1" fill="#d9d9d9" stroke="none"/>
<rect x="242.1" y="370.8" width="1.4" height="1" fill="#d9d9d9" stroke="none"/>
<rect x="248.0" y="370.8" width="1.4" height="1" fill="#d9d9d9" stroke="none"/>
<rect x="259.8" y="370.8" width="1.4" height="1" fill="#d9d9d9" stroke="none"/>
<rect x="267.7" y="371.0" width="1.4" height="1" fill="#d9d9d9" stroke="none"/>
<rect x="269.6" y="371.1" width="1.4" height="1" fill="#d9d9d9" stroke="none"/>
<rect x="275.2" y="370.9" width="1.4" height="1" fill="#d9d9d9" stroke="none"/>
<rect x="277.5" y="371.1" width="1.4" height="1" fill="#d9d9d9" stroke="none"/>
<rect x="279.9" y="370.7" width="1.4" height="1" fill="#d9d9d9" stroke="none"/>
<rect x="285.3" y="370.7" width="1.4" height="1" fill="#d9d9d9" stroke="none"/>
<rect x="287.8" y="371.3" width="1.4" height="1" fill="#d9d9d9" stroke="none"/>
<rect x="292.8" y="371.0" width="1.4" height="1" fill="#d9d9d9" stroke="none"/>
<rect x="297.7" y="370.7" width="1.4" height="1" fill="#d9d9d9" stroke="none"/>
<rect x="302.4" y="370.9" width="1.4" height="1" fill="#d9d9d9" stroke="none"/>
<rect x="304.9" y="370.7" width="1.4" height="1" fill="#d9d9d9" stroke="none"/>
<rect x="199.7" y="378.8" width="1.4" height="1" fill="#d9d9d9" stroke="none"/>
<rect x="202.7" y="379.0" width="1.4" height="1" fill="#d9d9d9" stroke="none"/>
<rect x="205.0" y="378.9" width="1.4" height="1" fill="#d9d9d9" stroke="none"/>
<rect x="212.6" y="378.7" width="1.4" height="1" fill="#d9d9d9" stroke="none"/>
<rect x="217.0" y="378.7" width="1.4" height="1" fill="#d9d9d9" stroke="none"/>
<rect x="222.7" y="378.9" width="1.4" height="1" fill="#d9d9d9" stroke="none"/>
<rect x="225.1" y="378.9" width="1.4" height="1" fill="#d9d9d9" stroke="none"/>
<rect x="235.3" y="379.0" width="1.4" height="1" fill="#d9d9d9" stroke="none"/>
<rect x="237.4" y="379.1" width="1.4" height="1" fill="#d9d9d9" stroke="none"/>
<rect x="245.4" y="378.8" width="1.4" height="1" fill="#d9d9d9" stroke="none"/>
<rect x="257.5" y="379.0" width="1.4" height="1" fill="#d9d9d9" stroke="none"/>
<rect x="267.0" y="379.1" width="1.4" height="1" fill="#d9d9d9" stroke="none"/>
<rect x="270.3" y="379.0" width="1.4" height="1" fill="#d9d9d9" stroke="none"/>
<rect x="279.5" y="379.1" width="1.4" height="1" fill="#d9d9d9" stroke="none"/>
<rect x="284.7" y="378.8" width="1.4" height="1" fill="#d9d9d9" stroke="none"/>
<rect x="289.8" y="378.9" width="1.4" height="1" fill="#d9d9d9" stroke="none"/>
<rect x="292.4" y="378.8" width="1.4" height="1" fill="#d9d9d9" stroke="none"/>
<rect x="294.7" y="379.1" width="1.4" height="1" fill="#d9d9d9" stroke="none"/>
<rect x="297.2" y="379.2" width="1.4" height="1" fill="#d9d9d9" stroke="none"/>
<rect x="199.8" y="387.0" width="1.4" height="1" fill="#d9d9d9" stroke="none"/>
<rect x="205.3" y="386.9" width="1.4" height="1" fill="#d9d9d9" stroke="none"/>
<rect x="209.5" y="387.0" width="1.4" height="1" fill="#d9d9d9" stroke="none"/>
<rect x="215.1" y="386.9" width="1.4" height="1" fill="#d9d9d9" stroke="none"/>
<rect x="217.9" y="387.0" width="1.4" height="1" fill="#d9d9d9" stroke="none"/>
<rect x="224.7" y="387.0" width="1.4" height="1" fill="#d9d9d9" stroke="none"/>
<rect x="227.3" y="387.0" width="1.4" height="1" fill="#d9d9d9" stroke="none"/>
<rect x="229.5" y="386.9" width="1.4" height="1" fill="#d9d9d9" stroke="none"/>
<rect x="233.0" y="386.8" width="1.4" height="1" fill="#d9d9d9" stroke="none"/>
<rect x="245.0" y="387.1" width="1.4" height="1" fill="#d9d9d9" stroke="none"/>
<rect x="249.7" y="387.3" width="1.4" height="1" fill="#d9d9d9" stroke="none"/>
<rect x="257.6" y="387.1" width="1.4" height="1" fill="#d9d9d9" stroke="none"/>
<rect x="262.2" y="386.8" width="1.4" height="1" fill="#d9d9d9" stroke="none"/>
<rect x="265.4" y="387.3" width="1.4" height="1" fill="#d9d9d9" stroke="none"/>
<rect x="267.2" y="387.2" width="1.4" height="1" fill="#d9d9d9" stroke="none"/>
<rect x="269.7" y="386.9" width="1.4" height="1" fill="#d9d9d9" stroke="none"/>
<rect x="285.2" y="386.8" width="1.4" height="1" fill="#d9d9d9" stroke="none"/>
<rect x="290.4" y="387.2" width="1.4" height="1" fill="#d9d9d9" stroke="none"/>
<rect x="292.7" y="387.1" width="1.4" height="1" fill="#d9d9d9" stroke="none"/>
<rect x="299.8" y="386.7" width="1.4" height="1" fill="#d9d9d9" stroke="none"/>
<rect x="205.4" y="394.7" width="1.4" height="1" fill="#d9d9d9" stroke="none"/>
<rect x="209.6" y="394.8" width="1.4" height="1" fill="#d9d9d9" stroke="none"/>
<rect x="215.1" y="395.3" width="1.4" height="1" fill="#d9d9d9" stroke="none"/>
<rect x="219.7" y="395.1" width="1.4" height="1" fill="#d9d9d9" stroke="none"/>
<rect x="224.9" y="394.7" width="1.4" height="1" fill="#d9d9d9" stroke="none"/>
<rect x="229.6" y="394.8" width="1.4" height="1" fill="#d9d9d9" stroke="none"/>
<rect x="232.4" y="394.8" width="1.4" height="1" fill="#d9d9d9" stroke="none"/>
<rect x="237.4" y="394.9" width="1.4" height="1" fill="#d9d9d9" stroke="none"/>
<rect x="247.1" y="395.3" width="1.4" height="1" fill="#d9d9d9" stroke="none"/>
<rect x="252.2" y="395.0" width="1.4" height="1" fill="#d9d9d9" stroke="none"/>
<rect x="254.9" y="395.0" width="1.4" height="1" fill="#d9d9d9" stroke="none"/>
<rect x="260.3" y="394.9" width="1.4" height="1" fill="#d9d9d9" stroke="none"/>
<rect x="262.7" y="394.7" width="1.4" height="1" fill="#d9d9d9" stroke="none"/>
<rect x="270.4" y="395.2" width="1.4" height="1" fill="#d9d9d9" stroke="none"/>
<rect x="272.9" y="394.9" width="1.4" height="1" fill="#d9d9d9" stroke="none"/>
<rect x="275.2" y="395.2" width="1.4" height="1" fill="#d9d9d9" stroke="none"/>
<rect x="282.3" y="394.8" width="1.4" height="1" fill="#d9d9d9" stroke="none"/>
<rect x="285.5" y="395.1" width="1.4" height="1" fill="#d9d9d9" stroke="none"/>
<rect x="290.4" y="394.9" width="1.4" height="1" fill="#d9d9d9" stroke="none"/>
<rect x="292.6" y="394.9" width="1.4" height="1" fill="#d9d9d9" stroke="none"/>
<rect x="302.3" y="395.0" width="1.4" height="1" fill="#d9d9d9" stroke="none"/>
<rect x="200.0" y="403.2" width="1.4" height="1" fill="#d9d9d9" stroke="none"/>
<rect x="202.7" y="403.0" width="1.4" height="1" fill="#d9d9d9" stroke="none"/>
<rect x="207.4" y="403.1" width="1.4" height="1" fill="#d9d9d9" stroke="none"/>
<rect x="210.4" y="402.8" width="1.4" height="1" fill="#d9d9d9" stroke="none"/>
<rect x="215.0" y="402.9" width="1.4" height="1" fill="#d9d9d9" stroke="none"/>
<rect x="225.0" y="402.7" width="1.4" height="1" fill="#d9d9d9" stroke="none"/>
<rect x="230.3" y="403.0" width="1.4" height="1" fill="#d9d9d9" stroke="none"/>
<rect x="240.3" y="403.1" width="1.4" height="1" fill="#d9d9d9" stroke="none"/>
<rect x="245.5" y="403.1" width="1.4" height="1" fill="#d9d9d9" stroke="none"/>
<rect x="247.7" y="403.2" width="1.4" height="1" fill="#d9d9d9" stroke="none"/>
<rect x="250.0" y="403.1" width="1.4" height="1" fill="#d9d9d9" stroke="none"/>
<rect x="259.8" y="403.0" width="1.4" height="1" fill="#d9d9d9" stroke="none"/>
<rect x="267.5" y="403.1" width="1.4" height="1" fill="#d9d9d9" stroke="none"/>
<rect x="270.4" y="402.9" width="1.4" height="1" fill="#d9d9d9" stroke="none"/>
<rect x="279.9" y="403.1" width="1.4" height="1" fill="#d9d9d9" stroke="none"/>
<rect x="282.2" y="403.0" width="1.4" height="1" fill="#d9d9d9" stroke="none"/>
<rect x="284.8" y="402.9" width="1.4" height="1" fill="#d9d9d9" stroke="none"/>
<rect x="287.4" y="403.0" width="1.4" height="1" fill="#d9d9d9" stroke="none"/>
<rect x="290.4" y="403.2" width="1.4" height="1" fill="#d9d9d9" stroke="none"/>
<rect x="292.2" y="403.0" width="1.4" height="1" fill="#d9d9d9" stroke="none"/>
<rect x="294.9" y="402.8" width="1.4" height="1" fill="#d9d9d9" stroke="none"/>
<rect x="302.4" y="403.3" width="1.4" height="1" fill="#d9d9d9" stroke="none"/>
<rect x="202.9" y="410.8" width="1.4" height="1" fill="#d9d9d9" stroke="none"/>
<rect x="205.2" y="411.3" width="1.4" height="1" fill="#d9d9d9" stroke="none"/>
<rect x="208.0" y="411.0" width="1.4" height="1" fill="#d9d9d9" stroke="none"/>
<rect x="209.6" y="410.8" width="1.4" height="1" fill="#d9d9d9" stroke="none"/>
<rect x="212.6" y="410.9" width="1.4" height="1" fill="#d9d9d9" stroke="none"/>
<rect x="217.0" y="410.8" width="1.4" height="1" fill="#d9d9d9" stroke="none"/>
<rect x="219.7" y="411.2" width="1.4" height="1" fill="#d9d9d9" stroke="none"/>
<rect x="224.7" y="410.8" width="1.4" height="1" fill="#d9d9d9" stroke="none"/>
<rect x="228.0" y="410.7" width="1.4" height="1" fill="#d9d9d9" stroke="none"/>
<rect x="230.2" y="410.7" width="1.4" height="1" fill="#d9d9d9" stroke="none"/>
<rect x="234.8" y="411.3" width="1.4" height="1" fill="#d9d9d9" stroke="none"/>
<rect x="240.4" y="411.0" width="1.4" height="1" fill="#d9d9d9" stroke="none"/>
<rect x="242.3" y="411.2" width="1.4" height="1" fill="#d9d9d9" stroke="none"/>
<rect x="245.5" y="410.8" width="1.4" height="1" fill="#d9d9d9" stroke="none"/>
<rect x="247.5" y="410.7" width="1.4" height="1" fill="#d9d9d9" stroke="none"/>
<rect x="257.5" y="410.9" width="1.4" height="1" fill="#d9d9d9" stroke="none"/>
<rect x="259.7" y="411.2" width="1.4" height="1" fill="#d9d9d9" stroke="none"/>
<rect x="262.6" y="410.8" width="1.4" height="1" fill="#d9d9d9" stroke="none"/>
<rect x="267.9" y="410.7" width="1.4" height="1" fill="#d9d9d9" stroke="none"/>
<rect x="270.0" y="410.8" width="1.4" height="1" fill="#d9d9d9" stroke="none"/>
<rect x="275.0" y="410.7" width="1.4" height="1" fill="#d9d9d9" stroke="none"/>
<rect x="279.7" y="411.0" width="1.4" height="1" fill="#d9d9d9" stroke="none"/>
<rect x="287.8" y="410.8" width="1.4" height="1" fill="#d9d9d9" stroke="none"/>
<rect x="292.8" y="410.9" width="1.4" height="1" fill="#d9d9d9" stroke="none"/>
<rect x="299.7" y="411.1" width="1.4" height="1" fill="#d9d9d9" stroke="none"/>
<rect x="302.0" y="411.0" width="1.4" height="1" fill="#d9d9d9" stroke="none"/>
<rect x="212.5" y="418.7" width="1.4" height="1" fill="#d9d9d9" stroke="none"/>
<rect x="220.3" y="419.0" width="1.4" height="1" fill="#d9d9d9" stroke="none"/>
<rect x="225.3" y="418.7" width="1.4" height="1" fill="#d9d9d9" stroke="none"/>
<rect x="227.4" y="419.1" width="1.4" height="1" fill="#d9d9d9" stroke="none"/>
<rect x="230.1" y="419.0" width="1.4" height="1" fill="#d9d9d9" stroke="none"/>
<rect x="232.5" y="419.0" width="1.4" height="1" fill="#d9d9d9" stroke="none"/>
<rect x="234.9" y="418.8" width="1.4" height="1" fill="#d9d9d9" stroke="none"/>
<rect x="240.2" y="418.9" width="1.4" height="1" fill="#d9d9d9" stroke="none"/>
<rect x="242.6" y="419.1" width="1.4" height="1" fill="#d9d9d9" stroke="none"/>
<rect x="245.0" y="419.1" width="1.4" height="1" fill="#d9d9d9" stroke="none"/>
<rect x="247.3" y="418.9" width="1.4" height="1" fill="#d9d9d9" stroke="none"/>
<rect x="249.8" y="419.0" width="1.4" height="1" fill="#d9d9d9" stroke="none"/>
<rect x="252.0" y="418.9" width="1.4" height="1" fill="#d9d9d9" stroke="none"/>
<rect x="254.6" y="419.2" width="1.4" height="1" fill="#d9d9d9" stroke="none"/>
<rect x="272.1" y="418.8" width="1.4" height="1" fill="#d9d9d9" stroke="none"/>
<rect x="277.6" y="418.9" width="1.4" height="1" fill="#d9d9d9" stroke="none"/>
<rect x="279.9" y="418.9" width="1.4" height="1" fill="#d9d9d9" stroke="none"/>
<rect x="282.9" y="418.9" width="1.4" height="1" fill="#d9d9d9" stroke="none"/>
<rect x="287.8" y="418.9" width="1.4" height="1" fill="#d9d9d9" stroke="none"/>
<rect x="290.2" y="418.7" width="1.4" height="1" fill="#d9d9d9" stroke="none"/>
<rect x="292.1" y="419.0" width="1.4" height="1" fill="#d9d9d9" stroke="none"/>
<rect x="297.5" y="419.3" width="1.4" height="1" fill="#d9d9d9" stroke="none"/>
<rect x="302.6" y="419.1" width="1.4" height="1" fill="#d9d9d9" stroke="none"/>
<rect x="202.6" y="427.0" width="1.4" height="1" fill="#d9d9d9" stroke="none"/>
<rect x="205.4" y="426.7" width="1.4" height="1" fill="#d9d9d9" stroke="none"/>
<rect x="209.6" y="427.2" width="1.4" height="1" fill="#d9d9d9" stroke="none"/>
<rect x="212.5" y="427.3" width="1.4" height="1" fill="#d9d9d9" stroke="none"/>
<rect x="217.8" y="427.3" width="1.4" height="1" fill="#d9d9d9" stroke="none"/>
<rect x="222.7" y="427.0" width="1.4" height="1" fill="#d9d9d9" stroke="none"/>
<rect x="230.2" y="426.9" width="1.4" height="1" fill="#d9d9d9" stroke="none"/>
<rect x="232.1" y="426.8" width="1.4" height="1" fill="#d9d9d9" stroke="none"/>
<rect x="235.3" y="427.1" width="1.4" height="1" fill="#d9d9d9" stroke="none"/>
<rect x="237.6" y="426.8" width="1.4" height="1" fill="#d9d9d9" stroke="none"/>
<rect x="239.8" y="427.2" width="1.4" height="1" fill="#d9d9d9" stroke="none"/>
<rect x="245.4" y="426.9" width="1.4" height="1" fill="#d9d9d9" stroke="none"/>
<rect x="247.5" y="427.2" width="1.4" height="1" fill="#d9d9d9" stroke="none"/>
<rect x="249.5" y="426.8" width="1.4" height="1" fill="#d9d9d9" stroke="none"/>
<rect x="255.4" y="426.9" width="1.4" height="1" fill="#d9d9d9" stroke="none"/>
<rect x="257.3" y="426.8" width="1.4" height="1" fill="#d9d9d9" stroke="none"/>
<rect x="260.4" y="427.3" width="1.4" height="1" fill="#d9d9d9" stroke="none"/>
<rect x="262.2" y="427.2" width="1.4" height="1" fill="#d9d9d9" stroke="none"/>
<rect x="267.3" y="426.9" width="1.4" height="1" fill="#d9d9d9" stroke="none"/>
<rect x="270.3" y="426.9" width="1.4" height="1" fill="#d9d9d9" stroke="none"/>
<rect x="274.9" y="427.2" width="1.4" height="1" fill="#d9d9d9" stroke="none"/>
<rect x="277.4" y="426.9" width="1.4" height="1" fill="#d9d9d9" stroke="none"/>
<rect x="280.1" y="427.0" width="1.4" height="1" fill="#d9d9d9" stroke="none"/>
<rect x="282.8" y="426.9" width="1.4" height="1" fill="#d9d9d9" stroke="none"/>
<rect x="287.5" y="427.0" width="1.4" height="1" fill="#d9d9d9" stroke="none"/>
<rect x="292.8" y="427.1" width="1.4" height="1" fill="#d9d9d9" stroke="none"/>
<rect x="297.2" y="427.2" width="1.4" height="1" fill="#d9d9d9" stroke="none"/>
<rect x="302.0" y="427.0" width="1.4" height="1" fill="#d9d9d9" stroke="none"/>
<rect x="304.7" y="426.9" width="1.4" height="1" fill="#d9d9d9" stroke="none"/>
<rect x="200.2" y="434.9" width="1.4" height="1" fill="#d9d9d9" stroke="none"/>
<rect x="202.3" y="435.3" width="1.4" height="1" fill="#d9d9d9" stroke="none"/>
<rect x="207.1" y="435.3" width="1.4" height="1" fill="#d9d9d9" stroke="none"/>
<rect x="217.8" y="435.0" width="1.4" height="1" fill="#d9d9d9" stroke="none"/>
<rect x="222.1" y="435.0" width="1.4" height="1" fill="#d9d9d9" stroke="none"/>
<rect x="225.4" y="435.2" width="1.4" height="1" fill="#d9d9d9" stroke="none"/>
<rect x="227.8" y="435.1" width="1.4" height="1" fill="#d9d9d9" stroke="none"/>
<rect x="230.3" y="434.9" width="1.4" height="1" fill="#d9d9d9" stroke="none"/>
<rect x="232.9" y="435.1" width="1.4" height="1" fill="#d9d9d9" stroke="none"/>
<rect x="237.4" y="435.3" width="1.4" height="1" fill="#d9d9d9" stroke="none"/>
<rect x="242.1" y="434.8" width="1.4" height="1" fill="#d9d9d9" stroke="none"/>
<rect x="247.4" y="435.2" width="1.4" height="1" fill="#d9d9d9" stroke="none"/>
<rect x="252.5" y="434.9" width="1.4" height="1" fill="#d9d9d9" stroke="none"/>
<rect x="255.0" y="434.8" width="1.4" height="1" fill="#d9d9d9" stroke="none"/>
<rect x="257.3" y="435.1" width="1.4" height="1" fill="#d9d9d9" stroke="none"/>
<rect x="260.4" y="435.1" width="1.4" height="1" fill="#d9d9d9" stroke="none"/>
<rect x="267.7" y="435.1" width="1.4" height="1" fill="#d9d9d9" stroke="none"/>
<rect x="277.1" y="434.7" width="1.4" height="1" fill="#d9d9d9" stroke="none"/>
<rect x="280.4" y="435.0" width="1.4" height="1" fill="#d9d9d9" stroke="none"/>
<rect x="285.1" y="434.9" width="1.4" height="1" fill="#d9d9d9" stroke="none"/>
<rect x="294.6" y="435.3" width="1.4" height="1" fill="#d9d9d9" stroke="none"/>
<rect x="299.6" y="435.1" width="1.4" height="1" fill="#d9d9d9" stroke="none"/>
<rect x="202.1" y="443.0" width="1.4" height="1" fill="#d9d9d9" stroke="none"/>
<rect x="205.3" y="443.1" width="1.4" height="1" fill="#d9d9d9" stroke="none"/>
<rect x="209.7" y="443.0" width="1.4" height="1" fill="#d9d9d9" stroke="none"/>
<rect x="215.3" y="443.1" width="1.4" height="1" fill="#d9d9d9" stroke="none"/>
<rect x="219.6" y="443.2" width="1.4" height="1" fill="#d9d9d9" stroke="none"/>
<rect x="222.7" y="443.3" width="1.4" height="1" fill="#d9d9d9" stroke="none"/>
<rect x="237.2" y="442.8" width="1.4" height="1" fill="#d9d9d9" stroke="none"/>
<rect x="245.3" y="442.7" width="1.4" height="1" fill="#d9d9d9" stroke="none"/>
<rect x="247.5" y="442.7" width="1.4" height="1" fill="#d9d9d9" stroke="none"/>
<rect x="259.9" y="443.1" width="1.4" height="1" fill="#d9d9d9" stroke="none"/>
<rect x="262.3" y="443.0" width="1.4" height="1" fill="#d9d9d9" stroke="none"/>
<rect x="264.7" y="443.1" width="1.4" height="1" fill="#d9d9d9" stroke="none"/>
<rect x="277.3" y="443.2" width="1.4" height="1" fill="#d9d9d9" stroke="none"/>
<rect x="282.7" y="443.0" width="1.4" height="1" fill="#d9d9d9" stroke="none"/>
<rect x="284.9" y="443.1" width="1.4" height="1" fill="#d9d9d9" stroke="none"/>
<rect x="289.8" y="443.0" width="1.4" height="1" fill="#d9d9d9" stroke="none"/>
<rect x="299.9" y="443.2" width="1.4" height="1" fill="#d9d9d9" stroke="none"/>
<rect x="200.5" y="450.9" width="1.4" height="1" fill="#d9d9d9" stroke="none"/>
<rect x="202.4" y="450.8" width="1.4" height="1" fill="#d9d9d9" stroke="none"/>
<rect x="210.3" y="451.0" width="1.4" height="1" fill="#d9d9d9" stroke="none"/>
<rect x="212.5" y="450.9" width="1.4" height="1" fill="#d9d9d9" stroke="none"/>
<rect x="215.5" y="451.0" width="1.4" height="1" fill="#d9d9d9" stroke="none"/>
<rect x="219.5" y="450.8" width="1.4" height="1" fill="#d9d9d9" stroke="none"/>
<rect x="222.5" y="451.2" width="1.4" height="1" fill="#d9d9d9" stroke="none"/>
<rect x="235.3" y="451.0" width="1.4" height="1" fill="#d9d9d9" stroke="none"/>
<rect x="237.7" y="451.1" width="1.4" height="1" fill="#d9d9d9" stroke="none"/>
<rect x="247.9" y="451.0" width="1.4" height="1" fill="#d9d9d9" stroke="none"/>
<rect x="252.0" y="451.3" width="1.4" height="1" fill="#d9d9d9" stroke="none"/>
<rect x="254.8" y="450.9" width="1.4" height="1" fill="#d9d9d9" stroke="none"/>
<rect x="259.6" y="451.2" width="1.4" height="1" fill="#d9d9d9" stroke="none"/>
<rect x="264.8" y="450.9" width="1.4" height="1" fill="#d9d9d9" stroke="none"/>
<rect x="269.6" y="451.3" width="1.4" height="1" fill="#d9d9d9" stroke="none"/>
<rect x="272.8" y="451.0" width="1.4" height="1" fill="#d9d9d9" stroke="none"/>
<rect x="277.3" y="451.3" width="1.4" height="1" fill="#d9d9d9" stroke="none"/>
<rect x="279.8" y="450.7" width="1.4" height="1" fill="#d9d9d9" stroke="none"/>
<rect x="282.8" y="451.0" width="1.4" height="1" fill="#d9d9d9" stroke="none"/>
<rect x="284.9" y="451.2" width="1.4" height="1" fill="#d9d9d9" stroke="none"/>
<rect x="287.3" y="451.0" width="1.4" height="1" fill="#d9d9d9" stroke="none"/>
<rect x="290.0" y="451.1" width="1.4" height="1" fill="#d9d9d9" stroke="none"/>
<rect x="292.5" y="450.8" width="1.4" height="1" fill="#d9d9d9" stroke="none"/>
<rect x="297.8" y="450.9" width="1.4" height="1" fill="#d9d9d9" stroke="none"/>
<rect x="300.0" y="450.8" width="1.4" height="1" fill="#d9d9d9" stroke="none"/>
<rect x="302.2" y="451.2" width="1.4" height="1" fill="#d9d9d9" stroke="none"/>
<rect x="162" y="310.7" width="178.60000000000002" height="178.3" stroke-width="1.9" fill="none"/>
<rect x="192" y="341" width="119" height="118.39999999999998" stroke-width="1.9" fill="none"/>
<line x1="132.75" y1="340.5" x2="162" y2="340.5" stroke-width="1.2"/>
<line x1="108.75" y1="489" x2="162" y2="489" stroke-width="1.4"/>
<line x1="115.5" y1="310.7" x2="115.5" y2="489" stroke-width="1.2"/>
<polygon points="115.50,310.70 117.40,317.70 113.60,317.70" fill="#111" stroke="none"/>
<polygon points="115.50,489.00 113.60,482.00 117.40,482.00" fill="#111" stroke="none"/>
<line x1="140.5" y1="310.7" x2="140.5" y2="489" stroke-width="1.2"/>
<polygon points="140.50,310.70 142.40,317.70 138.60,317.70" fill="#111" stroke="none"/>
<polygon points="140.50,341.00 138.60,334.00 142.40,334.00" fill="#111" stroke="none"/>
<polygon points="140.50,341.00 142.40,348.00 138.60,348.00" fill="#111" stroke="none"/>
<polygon points="140.50,459.40 138.60,452.40 142.40,452.40" fill="#111" stroke="none"/>
<polygon points="140.50,459.40 142.40,466.40 138.60,466.40" fill="#111" stroke="none"/>
<polygon points="140.50,489.00 138.60,482.00 142.40,482.00" fill="#111" stroke="none"/>
<line x1="162" y1="489" x2="162" y2="531" stroke-width="1.2"/>
<line x1="340.6" y1="489" x2="340.6" y2="531" stroke-width="1.2"/>
<line x1="192" y1="489" x2="192" y2="512.5" stroke-width="1.2"/>
<line x1="311" y1="489" x2="311" y2="512.5" stroke-width="1.2"/>
<line x1="162" y1="507.5" x2="340.6" y2="507.5" stroke-width="1.2"/>
<polygon points="162.00,507.50 169.00,505.60 169.00,509.40" fill="#111" stroke="none"/>
<polygon points="192.00,507.50 185.00,509.40 185.00,505.60" fill="#111" stroke="none"/>
<polygon points="192.00,507.50 199.00,505.60 199.00,509.40" fill="#111" stroke="none"/>
<polygon points="311.00,507.50 304.00,509.40 304.00,505.60" fill="#111" stroke="none"/>
<polygon points="311.00,507.50 318.00,505.60 318.00,509.40" fill="#111" stroke="none"/>
<polygon points="340.60,507.50 333.60,509.40 333.60,505.60" fill="#111" stroke="none"/>
<line x1="162" y1="526.5" x2="340.6" y2="526.5" stroke-width="1.2"/>
<polygon points="162.00,526.50 169.00,524.60 169.00,528.40" fill="#111" stroke="none"/>
<polygon points="340.60,526.50 333.60,528.40 333.60,524.60" fill="#111" stroke="none"/>
<text transform="translate(133.75,324.75) rotate(-90)" x="0" y="3.78" font-family="Liberation Serif" font-size="10.5" font-weight="normal" text-anchor="middle" fill="#111" stroke="#111" stroke-width="0.45" >200</text>
<text transform="translate(133.75,400) rotate(-90)" x="0" y="3.78" font-family="Liberation Serif" font-size="10.5" font-weight="normal" text-anchor="middle" fill="#111" stroke="#111" stroke-width="0.45" >600</text>
<text transform="translate(133.5,473) rotate(-90)" x="0" y="3.78" font-family="Liberation Serif" font-size="10.5" font-weight="normal" text-anchor="middle" fill="#111" stroke="#111" stroke-width="0.45" >200</text>
<text transform="translate(109.3,402.8) rotate(-90)" x="0" y="3.78" font-family="Liberation Serif" font-size="10.5" font-weight="normal" text-anchor="middle" fill="#111" stroke="#111" stroke-width="0.45" >1 000</text>
<text x="177.5" y="504.08" font-family="Liberation Serif" font-size="10.5" font-weight="normal" text-anchor="middle" fill="#111" stroke="#111" stroke-width="0.45" >200</text>
<text x="250.5" y="504.28" font-family="Liberation Serif" font-size="10.5" font-weight="normal" text-anchor="middle" fill="#111" stroke="#111" stroke-width="0.45" >800</text>
<text x="325.3" y="504.28" font-family="Liberation Serif" font-size="10.5" font-weight="normal" text-anchor="middle" fill="#111" stroke="#111" stroke-width="0.45" >200</text>
<text x="250.75" y="524.18" font-family="Liberation Serif" font-size="10.5" font-weight="normal" text-anchor="middle" fill="#111" stroke="#111" stroke-width="0.45" >1 200</text>
<rect x="445" y="548.75" width="22.5" height="24.25" fill="none" stroke="#f2f2f2" stroke-width="1"/>
<polyline points="263.5,310 275,292.25 293.25,292.25" stroke-width="1.2"/>
<line x1="233.7" y1="400.8" x2="316.9" y2="337.6" stroke-width="1.2"/>
<polygon points="316.90,337.60 314.28,341.60 312.35,339.05" fill="#111" stroke="none"/>
<polyline points="341.6,319.25 365,302.75 380.75,302.75" stroke-width="1.2"/>
<polyline points="253,399.5 366.75,321.5 381.6,321.5" stroke-width="1.2"/>
<polyline points="268,399.7 365,342.5 384.25,342.5" stroke-width="1.2"/>
<polyline points="278,401.4 365,371 384,371" stroke-width="1.2"/>
<polyline points="290.5,406.4 365,391.5 384,391.5" stroke-width="1.2"/>
<polyline points="340.6,476 366.9,467.5 392.5,467.5" stroke-width="1.2"/>
<line x1="223.25" y1="368.85" x2="243.9" y2="338.75" stroke-width="1.2"/>
<text x="284.5" y="291.38" font-family="Liberation Serif" font-size="10.5" font-weight="normal" text-anchor="middle" fill="#111" stroke="#111" stroke-width="0.4" >1</text>
<text x="375" y="302.18" font-family="Liberation Serif" font-size="10.5" font-weight="normal" text-anchor="middle" fill="#111" stroke="#111" stroke-width="0.4" >2</text>
<text x="375" y="319.98" font-family="Liberation Serif" font-size="10.5" font-weight="normal" text-anchor="middle" fill="#111" stroke="#111" stroke-width="0.4" >3</text>
<text x="375" y="341.88" font-family="Liberation Serif" font-size="10.5" font-weight="normal" text-anchor="middle" fill="#111" stroke="#111" stroke-width="0.4" >4</text>
<text x="375" y="369.38" font-family="Liberation Serif" font-size="10.5" font-weight="normal" text-anchor="middle" fill="#111" stroke="#111" stroke-width="0.4" >5</text>
<text x="375" y="390.28" font-family="Liberation Serif" font-size="10.5" font-weight="normal" text-anchor="middle" fill="#111" stroke="#111" stroke-width="0.4" >6</text>
<text x="379" y="465.98" font-family="Liberation Serif" font-size="10.5" font-weight="normal" text-anchor="middle" fill="#111" stroke="#111" stroke-width="0.4" >7</text>
<polygon points="212.3,389.6 215.1,389.6 215.1,408.7 287.7,408.7 287.7,389.6 290.5,389.6 290.5,410.9 212.3,410.9" fill="#444" stroke="#111" stroke-width="1"/>
<circle cx="227" cy="407.2" r="1.9" fill="#fff" stroke="#111" stroke-width="1.2"/>
<circle cx="231" cy="407.2" r="1.9" fill="#fff" stroke="#111" stroke-width="1.2"/>
<circle cx="235" cy="407.2" r="1.9" fill="#fff" stroke="#111" stroke-width="1.2"/>
<circle cx="229" cy="403.8" r="1.9" fill="#fff" stroke="#111" stroke-width="1.2"/>
<circle cx="233" cy="403.8" r="1.9" fill="#fff" stroke="#111" stroke-width="1.2"/>
<circle cx="231" cy="400.5" r="1.9" fill="#fff" stroke="#111" stroke-width="1.2"/>
<circle cx="244.5" cy="407.2" r="1.9" fill="#fff" stroke="#111" stroke-width="1.2"/>
<circle cx="251" cy="407.2" r="1.9" fill="#fff" stroke="#111" stroke-width="1.2"/>
<circle cx="247.5" cy="402.5" r="1.9" fill="#fff" stroke="#111" stroke-width="1.2"/>
<circle cx="252.5" cy="402.5" r="1.9" fill="#fff" stroke="#111" stroke-width="1.2"/>
<circle cx="260.7" cy="407.2" r="1.9" fill="#fff" stroke="#111" stroke-width="1.2"/>
<circle cx="267.4" cy="407.2" r="1.9" fill="#fff" stroke="#111" stroke-width="1.2"/>
<circle cx="263" cy="402.5" r="1.9" fill="#fff" stroke="#111" stroke-width="1.2"/>
<circle cx="269" cy="402.5" r="1.9" fill="#fff" stroke="#111" stroke-width="1.2"/>
<circle cx="275.3" cy="404.2" r="2.8" fill="#fff" stroke="#111" stroke-width="1"/>
<line x1="445.6" y1="309.5" x2="548" y2="309.5" stroke-width="1.2"/>
<line x1="445" y1="532.5" x2="548" y2="532.5" stroke-width="1.2"/>
<line x1="454.5" y1="309.5" x2="454.5" y2="532.5" stroke-width="1.2"/>
<polygon points="454.50,309.50 456.40,316.50 452.60,316.50" fill="#111" stroke="none"/>
<polygon points="454.50,532.50 452.60,525.50 456.40,525.50" fill="#111" stroke="none"/>
<line x1="506.5" y1="309.5" x2="506.5" y2="353.75" stroke-width="1.2"/>
<polygon points="506.50,309.50 508.40,316.50 504.60,316.50" fill="#111" stroke="none"/>
<polygon points="506.50,353.75 504.60,346.75 508.40,346.75" fill="#111" stroke="none"/>
<line x1="478.75" y1="353.75" x2="498.4" y2="353.75" stroke-width="1.2"/>
<line x1="478.75" y1="371.9" x2="498.4" y2="371.9" stroke-width="1.2"/>
<line x1="486.5" y1="334.4" x2="486.5" y2="353.75" stroke-width="1.2"/>
<polygon points="486.50,353.75 484.60,346.75 488.40,346.75" fill="#111" stroke="none"/>
<line x1="486.5" y1="425" x2="486.5" y2="371.9" stroke-width="1.2"/>
<polygon points="486.50,371.90 488.40,378.90 484.60,378.90" fill="#111" stroke="none"/>
<line x1="549.5" y1="309.5" x2="549.5" y2="532.5" stroke-width="2.6"/>
<rect x="555.9" y="309.5" width="7.8" height="223.0" stroke-width="1.8" fill="none"/>
<line x1="558.7" y1="309.5" x2="558.7" y2="532.5" stroke-width="1"/>
<line x1="561" y1="309.5" x2="561" y2="532.5" stroke-width="1"/>
<rect x="573.1" y="309.5" width="3.4999999999999547" height="223.0" stroke-width="1.8" fill="none"/>
<rect x="586.4" y="309.5" width="3.2" height="223.0" stroke-width="1.8" fill="none"/>
<rect x="599.1999999999999" y="309.5" width="3.4000000000000457" height="223.0" stroke-width="1.8" fill="none"/>
<rect x="613.6999999999999" y="309.5" width="4.800000000000023" height="223.0" stroke-width="1.8" fill="none"/>
<line x1="626.25" y1="309.5" x2="626.25" y2="532.5" stroke-width="2.8"/>
<rect x="498.4" y="353.75" width="178.85000000000002" height="18.149999999999977" fill="#fff" stroke="none"/>
<circle cx="529.6" cy="357.4" r="0.65" fill="#555" stroke="none"/>
<circle cx="547.7" cy="356.9" r="0.65" fill="#555" stroke="none"/>
<circle cx="555.2" cy="357.6" r="0.65" fill="#555" stroke="none"/>
<circle cx="558.5" cy="357.0" r="0.65" fill="#555" stroke="none"/>
<circle cx="562.5" cy="357.7" r="0.65" fill="#555" stroke="none"/>
<circle cx="573.7" cy="357.3" r="0.65" fill="#555" stroke="none"/>
<circle cx="576.5" cy="357.5" r="0.65" fill="#555" stroke="none"/>
<circle cx="580.6" cy="357.2" r="0.65" fill="#555" stroke="none"/>
<circle cx="588.5" cy="357.6" r="0.65" fill="#555" stroke="none"/>
<circle cx="593.6" cy="356.8" r="0.65" fill="#555" stroke="none"/>
<circle cx="596.3" cy="357.7" r="0.65" fill="#555" stroke="none"/>
<circle cx="601.3" cy="357.2" r="0.65" fill="#555" stroke="none"/>
<circle cx="605.1" cy="356.9" r="0.65" fill="#555" stroke="none"/>
<circle cx="609.9" cy="356.9" r="0.65" fill="#555" stroke="none"/>
<circle cx="617.3" cy="357.2" r="0.65" fill="#555" stroke="none"/>
<circle cx="621.1" cy="357.0" r="0.65" fill="#555" stroke="none"/>
<circle cx="629.7" cy="357.6" r="0.65" fill="#555" stroke="none"/>
<circle cx="633.6" cy="357.6" r="0.65" fill="#555" stroke="none"/>
<circle cx="637.1" cy="357.3" r="0.65" fill="#555" stroke="none"/>
<circle cx="529.7" cy="360.8" r="0.65" fill="#555" stroke="none"/>
<circle cx="534.1" cy="361.7" r="0.65" fill="#555" stroke="none"/>
<circle cx="537.5" cy="361.4" r="0.65" fill="#555" stroke="none"/>
<circle cx="541.3" cy="361.4" r="0.65" fill="#555" stroke="none"/>
<circle cx="544.2" cy="360.8" r="0.65" fill="#555" stroke="none"/>
<circle cx="548.9" cy="361.7" r="0.65" fill="#555" stroke="none"/>
<circle cx="556.0" cy="361.1" r="0.65" fill="#555" stroke="none"/>
<circle cx="562.9" cy="361.0" r="0.65" fill="#555" stroke="none"/>
<circle cx="570.5" cy="361.2" r="0.65" fill="#555" stroke="none"/>
<circle cx="577.8" cy="361.1" r="0.65" fill="#555" stroke="none"/>
<circle cx="582.0" cy="361.3" r="0.65" fill="#555" stroke="none"/>
<circle cx="585.4" cy="360.9" r="0.65" fill="#555" stroke="none"/>
<circle cx="593.0" cy="361.3" r="0.65" fill="#555" stroke="none"/>
<circle cx="603.8" cy="360.8" r="0.65" fill="#555" stroke="none"/>
<circle cx="608.1" cy="361.2" r="0.65" fill="#555" stroke="none"/>
<circle cx="614.5" cy="360.9" r="0.65" fill="#555" stroke="none"/>
<circle cx="618.0" cy="361.4" r="0.65" fill="#555" stroke="none"/>
<circle cx="621.4" cy="361.7" r="0.65" fill="#555" stroke="none"/>
<circle cx="625.8" cy="361.4" r="0.65" fill="#555" stroke="none"/>
<circle cx="628.5" cy="361.6" r="0.65" fill="#555" stroke="none"/>
<circle cx="636.5" cy="361.5" r="0.65" fill="#555" stroke="none"/>
<circle cx="641.0" cy="361.1" r="0.65" fill="#555" stroke="none"/>
<circle cx="530.5" cy="365.2" r="0.65" fill="#555" stroke="none"/>
<circle cx="534.8" cy="365.4" r="0.65" fill="#555" stroke="none"/>
<circle cx="539.1" cy="364.9" r="0.65" fill="#555" stroke="none"/>
<circle cx="543.3" cy="365.5" r="0.65" fill="#555" stroke="none"/>
<circle cx="547.0" cy="365.3" r="0.65" fill="#555" stroke="none"/>
<circle cx="551.1" cy="364.9" r="0.65" fill="#555" stroke="none"/>
<circle cx="555.6" cy="365.5" r="0.65" fill="#555" stroke="none"/>
<circle cx="559.6" cy="365.2" r="0.65" fill="#555" stroke="none"/>
<circle cx="563.6" cy="364.9" r="0.65" fill="#555" stroke="none"/>
<circle cx="567.5" cy="364.9" r="0.65" fill="#555" stroke="none"/>
<circle cx="571.3" cy="365.5" r="0.65" fill="#555" stroke="none"/>
<circle cx="576.2" cy="365.7" r="0.65" fill="#555" stroke="none"/>
<circle cx="584.3" cy="365.0" r="0.65" fill="#555" stroke="none"/>
<circle cx="587.8" cy="365.2" r="0.65" fill="#555" stroke="none"/>
<circle cx="596.0" cy="364.8" r="0.65" fill="#555" stroke="none"/>
<circle cx="602.8" cy="365.0" r="0.65" fill="#555" stroke="none"/>
<circle cx="607.3" cy="364.9" r="0.65" fill="#555" stroke="none"/>
<circle cx="612.1" cy="365.7" r="0.65" fill="#555" stroke="none"/>
<circle cx="615.9" cy="365.5" r="0.65" fill="#555" stroke="none"/>
<circle cx="624.6" cy="365.2" r="0.65" fill="#555" stroke="none"/>
<circle cx="632.2" cy="365.3" r="0.65" fill="#555" stroke="none"/>
<circle cx="636.5" cy="365.2" r="0.65" fill="#555" stroke="none"/>
<circle cx="640.1" cy="365.1" r="0.65" fill="#555" stroke="none"/>
<circle cx="645.1" cy="365.4" r="0.65" fill="#555" stroke="none"/>
<circle cx="530.1" cy="369.4" r="0.65" fill="#555" stroke="none"/>
<circle cx="534.1" cy="369.7" r="0.65" fill="#555" stroke="none"/>
<circle cx="542.0" cy="369.7" r="0.65" fill="#555" stroke="none"/>
<circle cx="545.5" cy="369.7" r="0.65" fill="#555" stroke="none"/>
<circle cx="549.3" cy="368.9" r="0.65" fill="#555" stroke="none"/>
<circle cx="553.4" cy="369.6" r="0.65" fill="#555" stroke="none"/>
<circle cx="566.1" cy="369.1" r="0.65" fill="#555" stroke="none"/>
<circle cx="569.6" cy="369.6" r="0.65" fill="#555" stroke="none"/>
<circle cx="576.7" cy="369.3" r="0.65" fill="#555" stroke="none"/>
<circle cx="581.4" cy="369.2" r="0.65" fill="#555" stroke="none"/>
<circle cx="584.5" cy="369.5" r="0.65" fill="#555" stroke="none"/>
<circle cx="588.3" cy="369.4" r="0.65" fill="#555" stroke="none"/>
<circle cx="592.0" cy="368.9" r="0.65" fill="#555" stroke="none"/>
<circle cx="602.1" cy="368.9" r="0.65" fill="#555" stroke="none"/>
<circle cx="606.5" cy="369.7" r="0.65" fill="#555" stroke="none"/>
<circle cx="610.1" cy="368.8" r="0.65" fill="#555" stroke="none"/>
<circle cx="619.0" cy="369.6" r="0.65" fill="#555" stroke="none"/>
<circle cx="623.3" cy="368.9" r="0.65" fill="#555" stroke="none"/>
<circle cx="627.3" cy="368.8" r="0.65" fill="#555" stroke="none"/>
<circle cx="635.1" cy="369.0" r="0.65" fill="#555" stroke="none"/>
<circle cx="638.7" cy="369.5" r="0.65" fill="#555" stroke="none"/>
<circle cx="641.7" cy="369.7" r="0.65" fill="#555" stroke="none"/>
<rect x="498.4" y="353.75" width="178.85000000000002" height="18.149999999999977" fill="none" stroke-width="2.2"/>
<line x1="528.1" y1="353.75" x2="528.1" y2="371.9" stroke-width="1.8"/>
<line x1="647.25" y1="353.75" x2="647.25" y2="371.9" stroke-width="1.8"/>
<polyline points="637.8,353 659.4,294 687.5,294" stroke-width="1.2"/>
<polyline points="620,374.7 658.4,422.5 687.5,422.5" stroke-width="1.2"/>
<text x="674.4" y="291.78" font-family="Liberation Serif" font-size="10.5" font-weight="normal" text-anchor="middle" fill="#111" stroke="#111" stroke-width="0.4" >1</text>
<text x="673.4" y="419.78" font-family="Liberation Serif" font-size="10.5" font-weight="normal" text-anchor="middle" fill="#111" stroke="#111" stroke-width="0.4" >8</text>
<text transform="translate(499,332.2) rotate(-90)" x="0" y="3.78" font-family="Liberation Serif" font-size="10.5" font-weight="normal" text-anchor="middle" fill="#111" stroke="#111" stroke-width="0.45" >300</text>
<text transform="translate(447,416.25) rotate(-90)" x="0" y="3.78" font-family="Liberation Serif" font-size="10.5" font-weight="normal" text-anchor="middle" fill="#111" stroke="#111" stroke-width="0.45" >1 500</text>
<text transform="translate(462.5,399.5) rotate(-90)" x="0" y="3.78" font-family="Liberation Serif" font-size="10.5" font-weight="normal" text-anchor="middle" fill="#111" stroke="#111" stroke-width="0.3" ><tspan font-family="Liberation Sans" font-weight="bold" stroke-width="0.2">墙体：</tspan>200</text>
<text transform="translate(478.75,399.5) rotate(-90)" x="0" y="3.78" font-family="Liberation Serif" font-size="10.5" font-weight="normal" text-anchor="middle" fill="#111" stroke="#111" stroke-width="0.3" ><tspan font-family="Liberation Sans" font-weight="bold" stroke-width="0.2">楼板：</tspan>120</text>
</g>
</svg>

<div class="t" style="left:612.5px;top:98px;font-size:13.6px;font-weight:bold;">GB</div>
<div class="t" style="left:637.5px;top:96.7px;font-size:12.8px;font-weight:bold;font-family:'Liberation Sans',sans-serif;">23864—2023</div>

<div class="t s" style="left:373px;top:167px;font-size:12px;">附</div>
<div class="t s" style="left:401.5px;top:167px;font-size:12px;">录</div>
<div class="t" style="left:429px;top:167px;font-size:13px;font-weight:bold;-webkit-text-stroke:0.3px #151515;">A</div>
<div class="t s" style="left:371px;top:187px;font-size:13px;letter-spacing:0.6px">（规范性）</div>
<div class="t s" style="left:273px;top:208px;font-size:12.5px;letter-spacing:1.1px;-webkit-text-stroke:0.2px #151515;">防火封堵材料耐火性能试验标准试件的安装</div>

<div class="p" style="top:243px;width:309px;"><span class="n">A.1</span>电缆贯穿标准试件的安装方式如图 A.1 所示。</div>

<div class="t" style="left:655px;top:262px;font-size:12px;-webkit-text-stroke:0.2px #151515;">单位为毫米</div>

<div class="t" style="left:217.5px;top:581px;font-size:12px;font-weight:bold;-webkit-text-stroke:0.2px #151515;">a)</div>
<div class="t s" style="left:241px;top:582px;font-size:11.5px;letter-spacing:0.9px;">正视图</div>
<div class="t" style="left:533.5px;top:581px;font-size:12px;font-weight:bold;-webkit-text-stroke:0.2px #151515;">b)</div>
<div class="t s" style="left:557px;top:582px;font-size:11.5px;letter-spacing:0.9px;">侧视图</div>

<div class="lg" style="top:604px;text-align-last:left">标引序号说明：</div>
<div class="lg" style="top:624px;text-align-last:left">1——封堵材料；</div>
<div class="lg" style="top:644px;width:190px">2——<span class="L">6 </span>根<span class="L">(7×1.5)mm<sup>2</sup> KVV </span>电缆；</div>
<div class="lg" style="top:664.5px;width:218px">3——<span class="L">3 </span>根<span class="L">(3×50＋1×25)mm<sup>2</sup> YJV </span>电缆；</div>
<div class="lg" style="top:684.5px;width:218px">4——<span class="L">4 </span>根<span class="L">(3×50＋1×25)mm<sup>2</sup> YJV </span>电缆；</div>
<div class="lg" style="top:705px;width:94px">5——<span class="L">DN32 </span>钢管；</div>
<div class="lg" style="top:725px;width:338px">6——不带孔钢质电缆桥架<span class="L">(500 mm </span>宽<span class="L">,100 mm </span>高<span class="L">,1.5 mm </span>厚<span class="L">)</span>；</div>
<div class="lg" style="top:745px;width:123px">7——<span class="L">C30 </span>混凝土框架；</div>
<div class="lg" style="top:764.5px;text-align-last:left">8——热电偶。</div>

<div class="t s" style="left:288.5px;top:797.5px;font-size:12px;-webkit-text-stroke:0.2px #151515;">图</div>
<div class="t" style="left:305.5px;top:797px;font-size:14px;font-weight:bold;">A.1</div>
<div class="t s" style="left:341px;top:797.5px;font-size:12px;letter-spacing:2px;-webkit-text-stroke:0.2px #151515;">电缆贯穿标准试件的安装方式</div>

<div class="p" style="top:830px;width:486px;"><span class="n">A.2</span>柔性有机堵料、泡沫封堵材料电缆贯穿标准试件的安装方式如图 A.2 所示。</div>
<div class="p" style="top:851px;width:301px;"><span class="n">A.3</span>管道贯穿标准试件的安装方式如图 A.3 所示</div>
<div class="p" style="top:872px;"><span class="n">A.4</span>管道封堵材料安装在楼板或墙体上进行耐火<span style="font-size:10px;letter-spacing:2px;vertical-align:-1px">试验</span>,楼板和墙体应预留可穿试验用管的孔洞。管道</div>
<div class="p" style="top:893px;">封堵材料的安装方式应足以反映其实际使用情况,为使试验能够进行而作的安装修改应对管道封堵材</div>
<div class="p" style="top:915px;width:482px;">料性能无重大影响。试验用塑料管材应符合相关产品的国家或行业标准的要求。</div>
<div class="p" style="top:936px;"><span class="n">A.5</span>试验时将管道封堵材料用金属膨胀螺栓等金属件固定在结构厚度为<span class="L2"> 120 mm </span>的现浇整体式<span class="L2"> C30</span></div>
<div class="p" style="top:957px;">砼楼板下<span class="L2">(</span>砼板受火面保护层厚度为<span class="L2"> 10 mm)</span>或厚度为<span class="L2"> 200 mm </span>砼墙体受火面一侧。试验用塑料管材</div>
<div class="p" style="top:978px;">总长度为<span class="L2" style="letter-spacing:0.5px"> 2&#8201;000 mm,</span>背火面塑料管材露出楼板或墙体长度为<span class="L2" style="letter-spacing:0.5px"> 1&#8201;000 mm,</span>受火面管口用同材质堵头或矿</div>
<div class="p" style="top:1000px;">物棉封堵,封堵长度为<span class="L2">(50±10) mm,</span>背火面试验管距管口<span class="L2"> 50 mm </span>处用支承件固定。在背火面距楼板</div>
<div class="p" style="top:1021px;width:346px;">或墙体<span class="L2"> 25 mm </span>处管外表面对称两侧各安装一支热电偶。</div>

<div class="t" style="left:685px;top:1041px;font-size:12px;-webkit-text-stroke:0.35px #151515;">15</div>

<div class="t" style="left:436px;top:1087px;font-size:22px;line-height:22px;color:#b6b6b6;font-family:'Liberation Sans',sans-serif;letter-spacing:1.3px;-webkit-text-stroke:0.5px #b6b6b6;">斯凯肯（中国）集团股份有限公司</div>
</body></html>
